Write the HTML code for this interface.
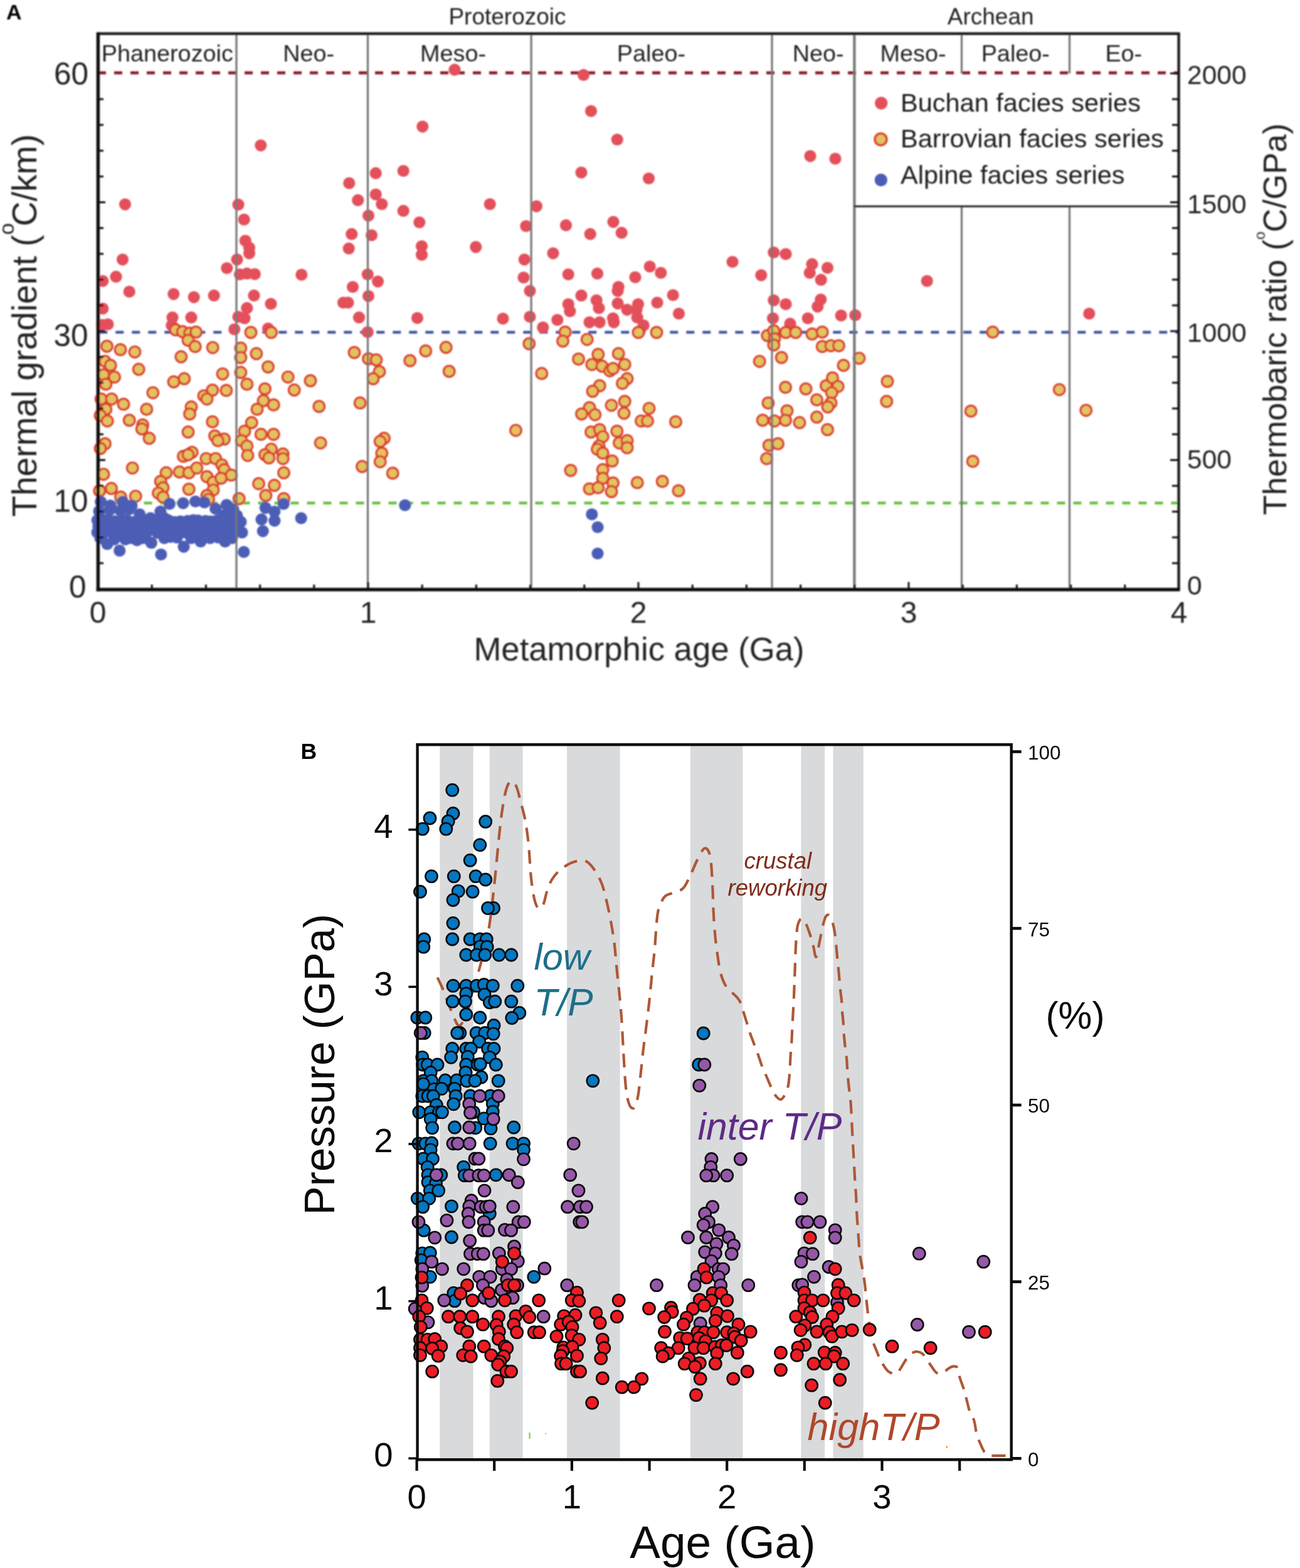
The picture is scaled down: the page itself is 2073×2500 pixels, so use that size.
<!DOCTYPE html>
<html><head><meta charset="utf-8"><title>Metamorphic thermal gradients through time</title>
<style>
html,body{margin:0;padding:0;background:#fff;}
body{width:2073px;height:2500px;overflow:hidden;}
svg{display:block;}
text{font-family:'Liberation Sans',Arial,Helvetica,sans-serif;}
</style></head><body>
<svg xmlns="http://www.w3.org/2000/svg" width="2073" height="2500" viewBox="0 0 2073 2500">
<rect x="0" y="0" width="2073" height="2500" fill="#fff"/>

<defs><filter id="blurA" filterUnits="userSpaceOnUse" x="0" y="0" width="2073" height="1110"><feGaussianBlur stdDeviation="0.85"/></filter></defs>
<g id="panelA" filter="url(#blurA)">
<text x="10" y="30.5" font-size="34" font-weight="bold" fill="#000">A</text>
<text x="809" y="39" font-size="37" fill="#222" text-anchor="middle">Proterozoic</text>
<text x="1579.7" y="39" font-size="37" fill="#222" text-anchor="middle">Archean</text>
<text x="266.8" y="98" font-size="37.8" fill="#222" text-anchor="middle">Phanerozoic</text>
<text x="492.2" y="98" font-size="37.8" fill="#222" text-anchor="middle">Neo-</text>
<text x="722.5" y="98" font-size="37.8" fill="#222" text-anchor="middle">Meso-</text>
<text x="1038.4" y="98" font-size="37.8" fill="#222" text-anchor="middle">Paleo-</text>
<text x="1304.7" y="98" font-size="37.8" fill="#222" text-anchor="middle">Neo-</text>
<text x="1456.1" y="98" font-size="37.8" fill="#222" text-anchor="middle">Meso-</text>
<text x="1619.3" y="98" font-size="37.8" fill="#222" text-anchor="middle">Paleo-</text>
<text x="1791.8" y="98" font-size="37.8" fill="#222" text-anchor="middle">Eo-</text>
<line x1="156" y1="116.2" x2="1878" y2="116.2" stroke="#861c26" stroke-width="4.8" stroke-dasharray="13 13"/>
<line x1="156" y1="529.7" x2="1878" y2="529.7" stroke="#3f56aa" stroke-width="4.4" stroke-dasharray="13 13" stroke-dashoffset="-2.3"/>
<line x1="156" y1="802" x2="1878" y2="802" stroke="#66c040" stroke-width="4.4" stroke-dasharray="13 13" stroke-dashoffset="4.5"/>
<circle cx="415.8" cy="231.8" r="9.6" fill="#e3505a"/><circle cx="199.5" cy="325.8" r="9.6" fill="#e3505a"/><circle cx="380.0" cy="326.2" r="9.6" fill="#e3505a"/><circle cx="389.2" cy="350.0" r="9.6" fill="#e3505a"/><circle cx="556.8" cy="292.0" r="9.6" fill="#e3505a"/><circle cx="570.8" cy="319.2" r="9.6" fill="#e3505a"/><circle cx="560.8" cy="373.2" r="9.6" fill="#e3505a"/><circle cx="195.5" cy="413.8" r="9.6" fill="#e3505a"/><circle cx="185.0" cy="441.2" r="9.6" fill="#e3505a"/><circle cx="163.8" cy="448.0" r="9.6" fill="#e3505a"/><circle cx="206.2" cy="465.0" r="9.6" fill="#e3505a"/><circle cx="163.8" cy="492.0" r="9.6" fill="#e3505a"/><circle cx="162.5" cy="518.0" r="9.6" fill="#e3505a"/><circle cx="172.0" cy="517.0" r="9.6" fill="#e3505a"/><circle cx="276.8" cy="468.8" r="9.6" fill="#e3505a"/><circle cx="309.2" cy="473.8" r="9.6" fill="#e3505a"/><circle cx="341.2" cy="471.2" r="9.6" fill="#e3505a"/><circle cx="275.0" cy="506.2" r="9.6" fill="#e3505a"/><circle cx="305.0" cy="506.2" r="9.6" fill="#e3505a"/><circle cx="273.8" cy="518.8" r="9.6" fill="#e3505a"/><circle cx="361.8" cy="427.5" r="9.6" fill="#e3505a"/><circle cx="378.0" cy="413.8" r="9.6" fill="#e3505a"/><circle cx="391.2" cy="383.8" r="9.6" fill="#e3505a"/><circle cx="397.5" cy="395.0" r="9.6" fill="#e3505a"/><circle cx="397.5" cy="403.8" r="9.6" fill="#e3505a"/><circle cx="382.5" cy="437.5" r="9.6" fill="#e3505a"/><circle cx="393.8" cy="436.2" r="9.6" fill="#e3505a"/><circle cx="406.2" cy="437.0" r="9.6" fill="#e3505a"/><circle cx="405.0" cy="471.2" r="9.6" fill="#e3505a"/><circle cx="393.8" cy="491.2" r="9.6" fill="#e3505a"/><circle cx="380.0" cy="505.0" r="9.6" fill="#e3505a"/><circle cx="390.0" cy="507.5" r="9.6" fill="#e3505a"/><circle cx="373.8" cy="525.0" r="9.6" fill="#e3505a"/><circle cx="432.0" cy="484.5" r="9.6" fill="#e3505a"/><circle cx="480.8" cy="438.0" r="9.6" fill="#e3505a"/><circle cx="427.5" cy="523.8" r="9.6" fill="#e3505a"/><circle cx="556.2" cy="396.2" r="9.6" fill="#e3505a"/><circle cx="562.5" cy="457.5" r="9.6" fill="#e3505a"/><circle cx="547.5" cy="482.5" r="9.6" fill="#e3505a"/><circle cx="555.0" cy="482.5" r="9.6" fill="#e3505a"/><circle cx="572.5" cy="506.2" r="9.6" fill="#e3505a"/><circle cx="725.0" cy="111.2" r="9.6" fill="#e3505a"/><circle cx="930.5" cy="119.5" r="9.6" fill="#e3505a"/><circle cx="942.5" cy="177.0" r="9.6" fill="#e3505a"/><circle cx="673.8" cy="201.8" r="9.6" fill="#e3505a"/><circle cx="984.2" cy="222.5" r="9.6" fill="#e3505a"/><circle cx="599.2" cy="276.2" r="9.6" fill="#e3505a"/><circle cx="643.2" cy="272.5" r="9.6" fill="#e3505a"/><circle cx="927.0" cy="275.0" r="9.6" fill="#e3505a"/><circle cx="599.2" cy="310.0" r="9.6" fill="#e3505a"/><circle cx="608.8" cy="325.5" r="9.6" fill="#e3505a"/><circle cx="643.2" cy="336.2" r="9.6" fill="#e3505a"/><circle cx="587.5" cy="343.8" r="9.6" fill="#e3505a"/><circle cx="668.8" cy="354.5" r="9.6" fill="#e3505a"/><circle cx="781.2" cy="325.5" r="9.6" fill="#e3505a"/><circle cx="855.5" cy="328.8" r="9.6" fill="#e3505a"/><circle cx="838.8" cy="360.5" r="9.6" fill="#e3505a"/><circle cx="902.5" cy="359.2" r="9.6" fill="#e3505a"/><circle cx="978.0" cy="353.8" r="9.6" fill="#e3505a"/><circle cx="991.2" cy="371.2" r="9.6" fill="#e3505a"/><circle cx="941.2" cy="373.2" r="9.6" fill="#e3505a"/><circle cx="592.5" cy="375.0" r="9.6" fill="#e3505a"/><circle cx="672.5" cy="406.2" r="9.6" fill="#e3505a"/><circle cx="758.8" cy="393.8" r="9.6" fill="#e3505a"/><circle cx="836.2" cy="413.8" r="9.6" fill="#e3505a"/><circle cx="882.0" cy="403.8" r="9.6" fill="#e3505a"/><circle cx="602.5" cy="448.8" r="9.6" fill="#e3505a"/><circle cx="835.0" cy="442.5" r="9.6" fill="#e3505a"/><circle cx="845.0" cy="463.8" r="9.6" fill="#e3505a"/><circle cx="906.2" cy="437.5" r="9.6" fill="#e3505a"/><circle cx="952.5" cy="436.2" r="9.6" fill="#e3505a"/><circle cx="986.2" cy="457.5" r="9.6" fill="#e3505a"/><circle cx="985.0" cy="463.8" r="9.6" fill="#e3505a"/><circle cx="927.0" cy="471.2" r="9.6" fill="#e3505a"/><circle cx="906.2" cy="485.0" r="9.6" fill="#e3505a"/><circle cx="908.8" cy="496.2" r="9.6" fill="#e3505a"/><circle cx="951.2" cy="478.8" r="9.6" fill="#e3505a"/><circle cx="955.0" cy="491.2" r="9.6" fill="#e3505a"/><circle cx="985.0" cy="483.8" r="9.6" fill="#e3505a"/><circle cx="1000.0" cy="493.8" r="9.6" fill="#e3505a"/><circle cx="665.5" cy="507.0" r="9.6" fill="#e3505a"/><circle cx="802.0" cy="508.0" r="9.6" fill="#e3505a"/><circle cx="845.0" cy="505.0" r="9.6" fill="#e3505a"/><circle cx="888.8" cy="510.0" r="9.6" fill="#e3505a"/><circle cx="940.0" cy="513.8" r="9.6" fill="#e3505a"/><circle cx="956.2" cy="513.8" r="9.6" fill="#e3505a"/><circle cx="977.5" cy="507.5" r="9.6" fill="#e3505a"/><circle cx="978.8" cy="513.8" r="9.6" fill="#e3505a"/><circle cx="865.8" cy="522.0" r="9.6" fill="#e3505a"/><circle cx="586.2" cy="529.5" r="9.6" fill="#e3505a"/><circle cx="672.5" cy="392.5" r="9.6" fill="#e3505a"/><circle cx="1034.5" cy="284.5" r="9.6" fill="#e3505a"/><circle cx="1292.0" cy="248.8" r="9.6" fill="#e3505a"/><circle cx="1332.0" cy="253.0" r="9.6" fill="#e3505a"/><circle cx="1036.2" cy="425.0" r="9.6" fill="#e3505a"/><circle cx="1053.8" cy="435.0" r="9.6" fill="#e3505a"/><circle cx="1013.0" cy="442.0" r="9.6" fill="#e3505a"/><circle cx="1073.2" cy="470.5" r="9.6" fill="#e3505a"/><circle cx="1048.0" cy="482.5" r="9.6" fill="#e3505a"/><circle cx="1082.5" cy="500.0" r="9.6" fill="#e3505a"/><circle cx="1017.5" cy="485.0" r="9.6" fill="#e3505a"/><circle cx="1015.0" cy="493.8" r="9.6" fill="#e3505a"/><circle cx="1016.2" cy="506.2" r="9.6" fill="#e3505a"/><circle cx="1026.2" cy="518.8" r="9.6" fill="#e3505a"/><circle cx="1168.0" cy="417.5" r="9.6" fill="#e3505a"/><circle cx="1213.8" cy="438.8" r="9.6" fill="#e3505a"/><circle cx="1233.8" cy="402.5" r="9.6" fill="#e3505a"/><circle cx="1253.0" cy="405.0" r="9.6" fill="#e3505a"/><circle cx="1295.0" cy="421.2" r="9.6" fill="#e3505a"/><circle cx="1291.2" cy="435.0" r="9.6" fill="#e3505a"/><circle cx="1319.5" cy="427.0" r="9.6" fill="#e3505a"/><circle cx="1309.2" cy="446.2" r="9.6" fill="#e3505a"/><circle cx="1233.8" cy="478.8" r="9.6" fill="#e3505a"/><circle cx="1253.0" cy="485.0" r="9.6" fill="#e3505a"/><circle cx="1308.8" cy="477.5" r="9.6" fill="#e3505a"/><circle cx="1303.8" cy="488.8" r="9.6" fill="#e3505a"/><circle cx="1232.5" cy="507.5" r="9.6" fill="#e3505a"/><circle cx="1260.0" cy="516.2" r="9.6" fill="#e3505a"/><circle cx="1288.2" cy="507.5" r="9.6" fill="#e3505a"/><circle cx="1341.2" cy="503.0" r="9.6" fill="#e3505a"/><circle cx="1363.8" cy="502.5" r="9.6" fill="#e3505a"/><circle cx="1478.2" cy="448.0" r="9.6" fill="#e3505a"/><circle cx="1736.8" cy="500.0" r="9.6" fill="#e3505a"/><circle cx="586.25" cy="437.5" r="9.6" fill="#e3505a"/><circle cx="587.5" cy="472" r="9.6" fill="#e3505a"/>
<circle cx="280.0" cy="525.8" r="8.8" fill="#e2c262" stroke="#dc3f2e" stroke-width="3.4"/><circle cx="291.2" cy="528.8" r="8.8" fill="#e2c262" stroke="#dc3f2e" stroke-width="3.4"/><circle cx="302.5" cy="531.2" r="8.8" fill="#e2c262" stroke="#dc3f2e" stroke-width="3.4"/><circle cx="312.5" cy="529.5" r="8.8" fill="#e2c262" stroke="#dc3f2e" stroke-width="3.4"/><circle cx="300.0" cy="542.5" r="8.8" fill="#e2c262" stroke="#dc3f2e" stroke-width="3.4"/><circle cx="311.2" cy="552.5" r="8.8" fill="#e2c262" stroke="#dc3f2e" stroke-width="3.4"/><circle cx="339.2" cy="554.2" r="8.8" fill="#e2c262" stroke="#dc3f2e" stroke-width="3.4"/><circle cx="288.8" cy="568.8" r="8.8" fill="#e2c262" stroke="#dc3f2e" stroke-width="3.4"/><circle cx="170.5" cy="552.0" r="8.8" fill="#e2c262" stroke="#dc3f2e" stroke-width="3.4"/><circle cx="192.0" cy="557.5" r="8.8" fill="#e2c262" stroke="#dc3f2e" stroke-width="3.4"/><circle cx="215.0" cy="561.2" r="8.8" fill="#e2c262" stroke="#dc3f2e" stroke-width="3.4"/><circle cx="167.5" cy="576.2" r="8.8" fill="#e2c262" stroke="#dc3f2e" stroke-width="3.4"/><circle cx="176.2" cy="582.5" r="8.8" fill="#e2c262" stroke="#dc3f2e" stroke-width="3.4"/><circle cx="221.2" cy="588.8" r="8.8" fill="#e2c262" stroke="#dc3f2e" stroke-width="3.4"/><circle cx="165.0" cy="597.5" r="8.8" fill="#e2c262" stroke="#dc3f2e" stroke-width="3.4"/><circle cx="182.5" cy="601.2" r="8.8" fill="#e2c262" stroke="#dc3f2e" stroke-width="3.4"/><circle cx="168.8" cy="612.5" r="8.8" fill="#e2c262" stroke="#dc3f2e" stroke-width="3.4"/><circle cx="243.8" cy="626.2" r="8.8" fill="#e2c262" stroke="#dc3f2e" stroke-width="3.4"/><circle cx="161.2" cy="636.2" r="8.8" fill="#e2c262" stroke="#dc3f2e" stroke-width="3.4"/><circle cx="178.0" cy="636.2" r="8.8" fill="#e2c262" stroke="#dc3f2e" stroke-width="3.4"/><circle cx="197.0" cy="644.5" r="8.8" fill="#e2c262" stroke="#dc3f2e" stroke-width="3.4"/><circle cx="168.8" cy="652.5" r="8.8" fill="#e2c262" stroke="#dc3f2e" stroke-width="3.4"/><circle cx="233.8" cy="652.5" r="8.8" fill="#e2c262" stroke="#dc3f2e" stroke-width="3.4"/><circle cx="160.0" cy="662.5" r="8.8" fill="#e2c262" stroke="#dc3f2e" stroke-width="3.4"/><circle cx="171.2" cy="671.2" r="8.8" fill="#e2c262" stroke="#dc3f2e" stroke-width="3.4"/><circle cx="206.2" cy="670.0" r="8.8" fill="#e2c262" stroke="#dc3f2e" stroke-width="3.4"/><circle cx="227.5" cy="677.5" r="8.8" fill="#e2c262" stroke="#dc3f2e" stroke-width="3.4"/><circle cx="277.0" cy="608.8" r="8.8" fill="#e2c262" stroke="#dc3f2e" stroke-width="3.4"/><circle cx="293.8" cy="603.8" r="8.8" fill="#e2c262" stroke="#dc3f2e" stroke-width="3.4"/><circle cx="355.0" cy="596.2" r="8.8" fill="#e2c262" stroke="#dc3f2e" stroke-width="3.4"/><circle cx="338.8" cy="622.0" r="8.8" fill="#e2c262" stroke="#dc3f2e" stroke-width="3.4"/><circle cx="325.0" cy="631.2" r="8.8" fill="#e2c262" stroke="#dc3f2e" stroke-width="3.4"/><circle cx="330.0" cy="636.2" r="8.8" fill="#e2c262" stroke="#dc3f2e" stroke-width="3.4"/><circle cx="360.8" cy="622.5" r="8.8" fill="#e2c262" stroke="#dc3f2e" stroke-width="3.4"/><circle cx="305.0" cy="648.8" r="8.8" fill="#e2c262" stroke="#dc3f2e" stroke-width="3.4"/><circle cx="302.5" cy="660.0" r="8.8" fill="#e2c262" stroke="#dc3f2e" stroke-width="3.4"/><circle cx="338.8" cy="672.5" r="8.8" fill="#e2c262" stroke="#dc3f2e" stroke-width="3.4"/><circle cx="400.0" cy="530.0" r="8.8" fill="#e2c262" stroke="#dc3f2e" stroke-width="3.4"/><circle cx="432.5" cy="530.0" r="8.8" fill="#e2c262" stroke="#dc3f2e" stroke-width="3.4"/><circle cx="383.8" cy="555.0" r="8.8" fill="#e2c262" stroke="#dc3f2e" stroke-width="3.4"/><circle cx="383.8" cy="570.0" r="8.8" fill="#e2c262" stroke="#dc3f2e" stroke-width="3.4"/><circle cx="408.8" cy="563.8" r="8.8" fill="#e2c262" stroke="#dc3f2e" stroke-width="3.4"/><circle cx="383.8" cy="593.8" r="8.8" fill="#e2c262" stroke="#dc3f2e" stroke-width="3.4"/><circle cx="427.5" cy="585.0" r="8.8" fill="#e2c262" stroke="#dc3f2e" stroke-width="3.4"/><circle cx="393.8" cy="612.5" r="8.8" fill="#e2c262" stroke="#dc3f2e" stroke-width="3.4"/><circle cx="459.2" cy="601.2" r="8.8" fill="#e2c262" stroke="#dc3f2e" stroke-width="3.4"/><circle cx="495.0" cy="607.0" r="8.8" fill="#e2c262" stroke="#dc3f2e" stroke-width="3.4"/><circle cx="422.5" cy="620.0" r="8.8" fill="#e2c262" stroke="#dc3f2e" stroke-width="3.4"/><circle cx="469.2" cy="621.8" r="8.8" fill="#e2c262" stroke="#dc3f2e" stroke-width="3.4"/><circle cx="420.0" cy="638.8" r="8.8" fill="#e2c262" stroke="#dc3f2e" stroke-width="3.4"/><circle cx="436.2" cy="645.5" r="8.8" fill="#e2c262" stroke="#dc3f2e" stroke-width="3.4"/><circle cx="410.0" cy="652.5" r="8.8" fill="#e2c262" stroke="#dc3f2e" stroke-width="3.4"/><circle cx="508.8" cy="648.0" r="8.8" fill="#e2c262" stroke="#dc3f2e" stroke-width="3.4"/><circle cx="565.0" cy="562.0" r="8.8" fill="#e2c262" stroke="#dc3f2e" stroke-width="3.4"/><circle cx="574.2" cy="642.5" r="8.8" fill="#e2c262" stroke="#dc3f2e" stroke-width="3.4"/><circle cx="401.2" cy="673.8" r="8.8" fill="#e2c262" stroke="#dc3f2e" stroke-width="3.4"/><circle cx="226.2" cy="683.8" r="8.8" fill="#e2c262" stroke="#dc3f2e" stroke-width="3.4"/><circle cx="238.0" cy="698.8" r="8.8" fill="#e2c262" stroke="#dc3f2e" stroke-width="3.4"/><circle cx="300.0" cy="688.8" r="8.8" fill="#e2c262" stroke="#dc3f2e" stroke-width="3.4"/><circle cx="342.5" cy="695.0" r="8.8" fill="#e2c262" stroke="#dc3f2e" stroke-width="3.4"/><circle cx="357.5" cy="700.0" r="8.8" fill="#e2c262" stroke="#dc3f2e" stroke-width="3.4"/><circle cx="347.5" cy="702.5" r="8.8" fill="#e2c262" stroke="#dc3f2e" stroke-width="3.4"/><circle cx="167.5" cy="707.5" r="8.8" fill="#e2c262" stroke="#dc3f2e" stroke-width="3.4"/><circle cx="160.0" cy="715.0" r="8.8" fill="#e2c262" stroke="#dc3f2e" stroke-width="3.4"/><circle cx="211.2" cy="746.2" r="8.8" fill="#e2c262" stroke="#dc3f2e" stroke-width="3.4"/><circle cx="165.0" cy="756.2" r="8.8" fill="#e2c262" stroke="#dc3f2e" stroke-width="3.4"/><circle cx="158.8" cy="782.5" r="8.8" fill="#e2c262" stroke="#dc3f2e" stroke-width="3.4"/><circle cx="177.5" cy="778.8" r="8.8" fill="#e2c262" stroke="#dc3f2e" stroke-width="3.4"/><circle cx="192.5" cy="792.5" r="8.8" fill="#e2c262" stroke="#dc3f2e" stroke-width="3.4"/><circle cx="216.2" cy="791.2" r="8.8" fill="#e2c262" stroke="#dc3f2e" stroke-width="3.4"/><circle cx="292.5" cy="727.5" r="8.8" fill="#e2c262" stroke="#dc3f2e" stroke-width="3.4"/><circle cx="306.2" cy="721.2" r="8.8" fill="#e2c262" stroke="#dc3f2e" stroke-width="3.4"/><circle cx="300.0" cy="725.0" r="8.8" fill="#e2c262" stroke="#dc3f2e" stroke-width="3.4"/><circle cx="265.0" cy="753.8" r="8.8" fill="#e2c262" stroke="#dc3f2e" stroke-width="3.4"/><circle cx="286.2" cy="752.5" r="8.8" fill="#e2c262" stroke="#dc3f2e" stroke-width="3.4"/><circle cx="301.2" cy="753.8" r="8.8" fill="#e2c262" stroke="#dc3f2e" stroke-width="3.4"/><circle cx="313.8" cy="746.2" r="8.8" fill="#e2c262" stroke="#dc3f2e" stroke-width="3.4"/><circle cx="328.8" cy="731.2" r="8.8" fill="#e2c262" stroke="#dc3f2e" stroke-width="3.4"/><circle cx="343.8" cy="731.2" r="8.8" fill="#e2c262" stroke="#dc3f2e" stroke-width="3.4"/><circle cx="353.8" cy="741.2" r="8.8" fill="#e2c262" stroke="#dc3f2e" stroke-width="3.4"/><circle cx="357.5" cy="748.8" r="8.8" fill="#e2c262" stroke="#dc3f2e" stroke-width="3.4"/><circle cx="368.8" cy="757.5" r="8.8" fill="#e2c262" stroke="#dc3f2e" stroke-width="3.4"/><circle cx="330.0" cy="760.0" r="8.8" fill="#e2c262" stroke="#dc3f2e" stroke-width="3.4"/><circle cx="340.0" cy="768.8" r="8.8" fill="#e2c262" stroke="#dc3f2e" stroke-width="3.4"/><circle cx="352.5" cy="762.5" r="8.8" fill="#e2c262" stroke="#dc3f2e" stroke-width="3.4"/><circle cx="256.2" cy="767.5" r="8.8" fill="#e2c262" stroke="#dc3f2e" stroke-width="3.4"/><circle cx="260.0" cy="777.5" r="8.8" fill="#e2c262" stroke="#dc3f2e" stroke-width="3.4"/><circle cx="252.5" cy="786.2" r="8.8" fill="#e2c262" stroke="#dc3f2e" stroke-width="3.4"/><circle cx="260.0" cy="792.5" r="8.8" fill="#e2c262" stroke="#dc3f2e" stroke-width="3.4"/><circle cx="301.2" cy="780.0" r="8.8" fill="#e2c262" stroke="#dc3f2e" stroke-width="3.4"/><circle cx="340.0" cy="781.2" r="8.8" fill="#e2c262" stroke="#dc3f2e" stroke-width="3.4"/><circle cx="330.0" cy="790.0" r="8.8" fill="#e2c262" stroke="#dc3f2e" stroke-width="3.4"/><circle cx="332.5" cy="796.2" r="8.8" fill="#e2c262" stroke="#dc3f2e" stroke-width="3.4"/><circle cx="381.2" cy="795.0" r="8.8" fill="#e2c262" stroke="#dc3f2e" stroke-width="3.4"/><circle cx="390.0" cy="687.5" r="8.8" fill="#e2c262" stroke="#dc3f2e" stroke-width="3.4"/><circle cx="385.0" cy="702.5" r="8.8" fill="#e2c262" stroke="#dc3f2e" stroke-width="3.4"/><circle cx="393.8" cy="711.2" r="8.8" fill="#e2c262" stroke="#dc3f2e" stroke-width="3.4"/><circle cx="395.0" cy="726.2" r="8.8" fill="#e2c262" stroke="#dc3f2e" stroke-width="3.4"/><circle cx="416.2" cy="692.5" r="8.8" fill="#e2c262" stroke="#dc3f2e" stroke-width="3.4"/><circle cx="436.2" cy="692.5" r="8.8" fill="#e2c262" stroke="#dc3f2e" stroke-width="3.4"/><circle cx="432.5" cy="716.2" r="8.8" fill="#e2c262" stroke="#dc3f2e" stroke-width="3.4"/><circle cx="422.5" cy="725.0" r="8.8" fill="#e2c262" stroke="#dc3f2e" stroke-width="3.4"/><circle cx="428.8" cy="730.0" r="8.8" fill="#e2c262" stroke="#dc3f2e" stroke-width="3.4"/><circle cx="451.2" cy="723.8" r="8.8" fill="#e2c262" stroke="#dc3f2e" stroke-width="3.4"/><circle cx="451.2" cy="731.2" r="8.8" fill="#e2c262" stroke="#dc3f2e" stroke-width="3.4"/><circle cx="452.5" cy="753.8" r="8.8" fill="#e2c262" stroke="#dc3f2e" stroke-width="3.4"/><circle cx="412.5" cy="771.2" r="8.8" fill="#e2c262" stroke="#dc3f2e" stroke-width="3.4"/><circle cx="437.5" cy="773.8" r="8.8" fill="#e2c262" stroke="#dc3f2e" stroke-width="3.4"/><circle cx="423.8" cy="790.0" r="8.8" fill="#e2c262" stroke="#dc3f2e" stroke-width="3.4"/><circle cx="452.5" cy="795.0" r="8.8" fill="#e2c262" stroke="#dc3f2e" stroke-width="3.4"/><circle cx="511.2" cy="706.2" r="8.8" fill="#e2c262" stroke="#dc3f2e" stroke-width="3.4"/><circle cx="577.5" cy="743.8" r="8.8" fill="#e2c262" stroke="#dc3f2e" stroke-width="3.4"/><circle cx="901.2" cy="529.5" r="8.8" fill="#e2c262" stroke="#dc3f2e" stroke-width="3.4"/><circle cx="897.5" cy="543.8" r="8.8" fill="#e2c262" stroke="#dc3f2e" stroke-width="3.4"/><circle cx="936.2" cy="541.2" r="8.8" fill="#e2c262" stroke="#dc3f2e" stroke-width="3.4"/><circle cx="843.8" cy="548.0" r="8.8" fill="#e2c262" stroke="#dc3f2e" stroke-width="3.4"/><circle cx="678.8" cy="559.5" r="8.8" fill="#e2c262" stroke="#dc3f2e" stroke-width="3.4"/><circle cx="711.2" cy="553.8" r="8.8" fill="#e2c262" stroke="#dc3f2e" stroke-width="3.4"/><circle cx="653.8" cy="575.0" r="8.8" fill="#e2c262" stroke="#dc3f2e" stroke-width="3.4"/><circle cx="587.5" cy="572.0" r="8.8" fill="#e2c262" stroke="#dc3f2e" stroke-width="3.4"/><circle cx="600.0" cy="573.8" r="8.8" fill="#e2c262" stroke="#dc3f2e" stroke-width="3.4"/><circle cx="605.0" cy="592.5" r="8.8" fill="#e2c262" stroke="#dc3f2e" stroke-width="3.4"/><circle cx="595.0" cy="603.8" r="8.8" fill="#e2c262" stroke="#dc3f2e" stroke-width="3.4"/><circle cx="716.2" cy="592.0" r="8.8" fill="#e2c262" stroke="#dc3f2e" stroke-width="3.4"/><circle cx="863.8" cy="595.5" r="8.8" fill="#e2c262" stroke="#dc3f2e" stroke-width="3.4"/><circle cx="922.5" cy="572.5" r="8.8" fill="#e2c262" stroke="#dc3f2e" stroke-width="3.4"/><circle cx="953.8" cy="565.0" r="8.8" fill="#e2c262" stroke="#dc3f2e" stroke-width="3.4"/><circle cx="986.2" cy="563.8" r="8.8" fill="#e2c262" stroke="#dc3f2e" stroke-width="3.4"/><circle cx="943.8" cy="581.2" r="8.8" fill="#e2c262" stroke="#dc3f2e" stroke-width="3.4"/><circle cx="960.0" cy="583.8" r="8.8" fill="#e2c262" stroke="#dc3f2e" stroke-width="3.4"/><circle cx="972.5" cy="591.2" r="8.8" fill="#e2c262" stroke="#dc3f2e" stroke-width="3.4"/><circle cx="977.5" cy="587.5" r="8.8" fill="#e2c262" stroke="#dc3f2e" stroke-width="3.4"/><circle cx="996.2" cy="581.2" r="8.8" fill="#e2c262" stroke="#dc3f2e" stroke-width="3.4"/><circle cx="1000.0" cy="603.8" r="8.8" fill="#e2c262" stroke="#dc3f2e" stroke-width="3.4"/><circle cx="992.5" cy="611.2" r="8.8" fill="#e2c262" stroke="#dc3f2e" stroke-width="3.4"/><circle cx="956.2" cy="615.0" r="8.8" fill="#e2c262" stroke="#dc3f2e" stroke-width="3.4"/><circle cx="945.0" cy="623.8" r="8.8" fill="#e2c262" stroke="#dc3f2e" stroke-width="3.4"/><circle cx="940.0" cy="650.0" r="8.8" fill="#e2c262" stroke="#dc3f2e" stroke-width="3.4"/><circle cx="927.5" cy="660.0" r="8.8" fill="#e2c262" stroke="#dc3f2e" stroke-width="3.4"/><circle cx="948.8" cy="661.2" r="8.8" fill="#e2c262" stroke="#dc3f2e" stroke-width="3.4"/><circle cx="975.0" cy="646.2" r="8.8" fill="#e2c262" stroke="#dc3f2e" stroke-width="3.4"/><circle cx="996.2" cy="640.0" r="8.8" fill="#e2c262" stroke="#dc3f2e" stroke-width="3.4"/><circle cx="995.0" cy="658.8" r="8.8" fill="#e2c262" stroke="#dc3f2e" stroke-width="3.4"/><circle cx="822.5" cy="686.2" r="8.8" fill="#e2c262" stroke="#dc3f2e" stroke-width="3.4"/><circle cx="612.5" cy="698.8" r="8.8" fill="#e2c262" stroke="#dc3f2e" stroke-width="3.4"/><circle cx="606.2" cy="703.8" r="8.8" fill="#e2c262" stroke="#dc3f2e" stroke-width="3.4"/><circle cx="608.8" cy="722.5" r="8.8" fill="#e2c262" stroke="#dc3f2e" stroke-width="3.4"/><circle cx="606.2" cy="736.2" r="8.8" fill="#e2c262" stroke="#dc3f2e" stroke-width="3.4"/><circle cx="626.2" cy="754.5" r="8.8" fill="#e2c262" stroke="#dc3f2e" stroke-width="3.4"/><circle cx="942.5" cy="688.8" r="8.8" fill="#e2c262" stroke="#dc3f2e" stroke-width="3.4"/><circle cx="956.2" cy="685.0" r="8.8" fill="#e2c262" stroke="#dc3f2e" stroke-width="3.4"/><circle cx="961.2" cy="696.2" r="8.8" fill="#e2c262" stroke="#dc3f2e" stroke-width="3.4"/><circle cx="983.8" cy="687.5" r="8.8" fill="#e2c262" stroke="#dc3f2e" stroke-width="3.4"/><circle cx="987.5" cy="706.2" r="8.8" fill="#e2c262" stroke="#dc3f2e" stroke-width="3.4"/><circle cx="1000.0" cy="702.5" r="8.8" fill="#e2c262" stroke="#dc3f2e" stroke-width="3.4"/><circle cx="1000.0" cy="713.8" r="8.8" fill="#e2c262" stroke="#dc3f2e" stroke-width="3.4"/><circle cx="955.0" cy="711.2" r="8.8" fill="#e2c262" stroke="#dc3f2e" stroke-width="3.4"/><circle cx="952.5" cy="716.2" r="8.8" fill="#e2c262" stroke="#dc3f2e" stroke-width="3.4"/><circle cx="961.2" cy="722.5" r="8.8" fill="#e2c262" stroke="#dc3f2e" stroke-width="3.4"/><circle cx="976.2" cy="735.0" r="8.8" fill="#e2c262" stroke="#dc3f2e" stroke-width="3.4"/><circle cx="910.0" cy="750.0" r="8.8" fill="#e2c262" stroke="#dc3f2e" stroke-width="3.4"/><circle cx="961.2" cy="748.8" r="8.8" fill="#e2c262" stroke="#dc3f2e" stroke-width="3.4"/><circle cx="961.2" cy="762.5" r="8.8" fill="#e2c262" stroke="#dc3f2e" stroke-width="3.4"/><circle cx="977.5" cy="770.0" r="8.8" fill="#e2c262" stroke="#dc3f2e" stroke-width="3.4"/><circle cx="940.0" cy="779.5" r="8.8" fill="#e2c262" stroke="#dc3f2e" stroke-width="3.4"/><circle cx="953.8" cy="777.5" r="8.8" fill="#e2c262" stroke="#dc3f2e" stroke-width="3.4"/><circle cx="975.0" cy="783.8" r="8.8" fill="#e2c262" stroke="#dc3f2e" stroke-width="3.4"/><circle cx="1018.0" cy="530.0" r="8.8" fill="#e2c262" stroke="#dc3f2e" stroke-width="3.4"/><circle cx="1047.0" cy="530.0" r="8.8" fill="#e2c262" stroke="#dc3f2e" stroke-width="3.4"/><circle cx="1223.8" cy="535.0" r="8.8" fill="#e2c262" stroke="#dc3f2e" stroke-width="3.4"/><circle cx="1233.8" cy="527.5" r="8.8" fill="#e2c262" stroke="#dc3f2e" stroke-width="3.4"/><circle cx="1235.0" cy="540.0" r="8.8" fill="#e2c262" stroke="#dc3f2e" stroke-width="3.4"/><circle cx="1233.8" cy="550.0" r="8.8" fill="#e2c262" stroke="#dc3f2e" stroke-width="3.4"/><circle cx="1253.0" cy="530.0" r="8.8" fill="#e2c262" stroke="#dc3f2e" stroke-width="3.4"/><circle cx="1268.8" cy="530.0" r="8.8" fill="#e2c262" stroke="#dc3f2e" stroke-width="3.4"/><circle cx="1295.0" cy="532.5" r="8.8" fill="#e2c262" stroke="#dc3f2e" stroke-width="3.4"/><circle cx="1311.2" cy="529.5" r="8.8" fill="#e2c262" stroke="#dc3f2e" stroke-width="3.4"/><circle cx="1311.2" cy="552.5" r="8.8" fill="#e2c262" stroke="#dc3f2e" stroke-width="3.4"/><circle cx="1325.0" cy="551.2" r="8.8" fill="#e2c262" stroke="#dc3f2e" stroke-width="3.4"/><circle cx="1337.5" cy="551.2" r="8.8" fill="#e2c262" stroke="#dc3f2e" stroke-width="3.4"/><circle cx="1246.2" cy="570.0" r="8.8" fill="#e2c262" stroke="#dc3f2e" stroke-width="3.4"/><circle cx="1211.2" cy="576.2" r="8.8" fill="#e2c262" stroke="#dc3f2e" stroke-width="3.4"/><circle cx="1345.0" cy="582.5" r="8.8" fill="#e2c262" stroke="#dc3f2e" stroke-width="3.4"/><circle cx="1370.0" cy="571.2" r="8.8" fill="#e2c262" stroke="#dc3f2e" stroke-width="3.4"/><circle cx="1415.0" cy="608.0" r="8.8" fill="#e2c262" stroke="#dc3f2e" stroke-width="3.4"/><circle cx="1413.8" cy="640.0" r="8.8" fill="#e2c262" stroke="#dc3f2e" stroke-width="3.4"/><circle cx="1252.5" cy="617.5" r="8.8" fill="#e2c262" stroke="#dc3f2e" stroke-width="3.4"/><circle cx="1285.0" cy="620.0" r="8.8" fill="#e2c262" stroke="#dc3f2e" stroke-width="3.4"/><circle cx="1317.5" cy="615.0" r="8.8" fill="#e2c262" stroke="#dc3f2e" stroke-width="3.4"/><circle cx="1327.5" cy="602.5" r="8.8" fill="#e2c262" stroke="#dc3f2e" stroke-width="3.4"/><circle cx="1336.2" cy="616.2" r="8.8" fill="#e2c262" stroke="#dc3f2e" stroke-width="3.4"/><circle cx="1326.2" cy="626.2" r="8.8" fill="#e2c262" stroke="#dc3f2e" stroke-width="3.4"/><circle cx="1302.5" cy="637.5" r="8.8" fill="#e2c262" stroke="#dc3f2e" stroke-width="3.4"/><circle cx="1325.0" cy="642.5" r="8.8" fill="#e2c262" stroke="#dc3f2e" stroke-width="3.4"/><circle cx="1320.0" cy="648.8" r="8.8" fill="#e2c262" stroke="#dc3f2e" stroke-width="3.4"/><circle cx="1225.0" cy="642.5" r="8.8" fill="#e2c262" stroke="#dc3f2e" stroke-width="3.4"/><circle cx="1255.0" cy="655.0" r="8.8" fill="#e2c262" stroke="#dc3f2e" stroke-width="3.4"/><circle cx="1302.5" cy="665.0" r="8.8" fill="#e2c262" stroke="#dc3f2e" stroke-width="3.4"/><circle cx="1216.2" cy="670.0" r="8.8" fill="#e2c262" stroke="#dc3f2e" stroke-width="3.4"/><circle cx="1235.0" cy="671.2" r="8.8" fill="#e2c262" stroke="#dc3f2e" stroke-width="3.4"/><circle cx="1252.5" cy="670.0" r="8.8" fill="#e2c262" stroke="#dc3f2e" stroke-width="3.4"/><circle cx="1275.0" cy="673.8" r="8.8" fill="#e2c262" stroke="#dc3f2e" stroke-width="3.4"/><circle cx="1035.0" cy="651.2" r="8.8" fill="#e2c262" stroke="#dc3f2e" stroke-width="3.4"/><circle cx="1022.5" cy="671.2" r="8.8" fill="#e2c262" stroke="#dc3f2e" stroke-width="3.4"/><circle cx="1032.5" cy="671.2" r="8.8" fill="#e2c262" stroke="#dc3f2e" stroke-width="3.4"/><circle cx="1077.5" cy="672.5" r="8.8" fill="#e2c262" stroke="#dc3f2e" stroke-width="3.4"/><circle cx="1016.2" cy="769.5" r="8.8" fill="#e2c262" stroke="#dc3f2e" stroke-width="3.4"/><circle cx="1056.2" cy="767.5" r="8.8" fill="#e2c262" stroke="#dc3f2e" stroke-width="3.4"/><circle cx="1082.0" cy="782.5" r="8.8" fill="#e2c262" stroke="#dc3f2e" stroke-width="3.4"/><circle cx="1319.5" cy="685.0" r="8.8" fill="#e2c262" stroke="#dc3f2e" stroke-width="3.4"/><circle cx="1226.2" cy="710.0" r="8.8" fill="#e2c262" stroke="#dc3f2e" stroke-width="3.4"/><circle cx="1240.5" cy="707.5" r="8.8" fill="#e2c262" stroke="#dc3f2e" stroke-width="3.4"/><circle cx="1222.5" cy="731.2" r="8.8" fill="#e2c262" stroke="#dc3f2e" stroke-width="3.4"/><circle cx="1583.0" cy="529.5" r="8.8" fill="#e2c262" stroke="#dc3f2e" stroke-width="3.4"/><circle cx="1689.2" cy="621.2" r="8.8" fill="#e2c262" stroke="#dc3f2e" stroke-width="3.4"/><circle cx="1548.2" cy="655.5" r="8.8" fill="#e2c262" stroke="#dc3f2e" stroke-width="3.4"/><circle cx="1551.2" cy="735.5" r="8.8" fill="#e2c262" stroke="#dc3f2e" stroke-width="3.4"/><circle cx="1731.8" cy="654.2" r="8.8" fill="#e2c262" stroke="#dc3f2e" stroke-width="3.4"/>
<circle cx="388.8" cy="880.0" r="9.6" fill="#4c5db5"/><circle cx="160.7" cy="800" r="9.6" fill="#4c5db5"/><circle cx="176" cy="806" r="9.6" fill="#4c5db5"/><circle cx="195.8" cy="800" r="9.6" fill="#4c5db5"/><circle cx="210" cy="806" r="9.6" fill="#4c5db5"/><circle cx="270.3" cy="803.4" r="9.6" fill="#4c5db5"/><circle cx="292" cy="802.3" r="9.6" fill="#4c5db5"/><circle cx="311.6" cy="799.5" r="9.6" fill="#4c5db5"/><circle cx="326" cy="801" r="9.6" fill="#4c5db5"/><circle cx="343.7" cy="811" r="9.6" fill="#4c5db5"/><circle cx="361.3" cy="805" r="9.6" fill="#4c5db5"/><circle cx="372" cy="812" r="9.6" fill="#4c5db5"/><circle cx="158" cy="815" r="9.6" fill="#4c5db5"/><circle cx="175" cy="813" r="9.6" fill="#4c5db5"/><circle cx="192" cy="814" r="9.6" fill="#4c5db5"/><circle cx="206" cy="812" r="9.6" fill="#4c5db5"/><circle cx="222.7" cy="820" r="9.6" fill="#4c5db5"/><circle cx="240" cy="826" r="9.6" fill="#4c5db5"/><circle cx="255.8" cy="815.6" r="9.6" fill="#4c5db5"/><circle cx="262" cy="826" r="9.6" fill="#4c5db5"/><circle cx="368" cy="818" r="9.6" fill="#4c5db5"/><circle cx="355" cy="822" r="9.6" fill="#4c5db5"/><circle cx="377.8" cy="822" r="9.6" fill="#4c5db5"/><circle cx="155.3" cy="829.6" r="9.6" fill="#4c5db5"/><circle cx="166.1" cy="829.3" r="9.6" fill="#4c5db5"/><circle cx="175.1" cy="830.5" r="9.6" fill="#4c5db5"/><circle cx="182.7" cy="831.0" r="9.6" fill="#4c5db5"/><circle cx="192.1" cy="830.7" r="9.6" fill="#4c5db5"/><circle cx="201.8" cy="829.4" r="9.6" fill="#4c5db5"/><circle cx="212.7" cy="832.3" r="9.6" fill="#4c5db5"/><circle cx="221.0" cy="829.9" r="9.6" fill="#4c5db5"/><circle cx="232.5" cy="832.8" r="9.6" fill="#4c5db5"/><circle cx="241.8" cy="830.6" r="9.6" fill="#4c5db5"/><circle cx="252.9" cy="829.2" r="9.6" fill="#4c5db5"/><circle cx="261.9" cy="830.2" r="9.6" fill="#4c5db5"/><circle cx="268.6" cy="829.5" r="9.6" fill="#4c5db5"/><circle cx="278.7" cy="832.3" r="9.6" fill="#4c5db5"/><circle cx="287.7" cy="831.3" r="9.6" fill="#4c5db5"/><circle cx="299.1" cy="830.5" r="9.6" fill="#4c5db5"/><circle cx="308.2" cy="829.3" r="9.6" fill="#4c5db5"/><circle cx="315.7" cy="829.8" r="9.6" fill="#4c5db5"/><circle cx="327.7" cy="830.7" r="9.6" fill="#4c5db5"/><circle cx="335.8" cy="831.3" r="9.6" fill="#4c5db5"/><circle cx="345.8" cy="830.2" r="9.6" fill="#4c5db5"/><circle cx="356.7" cy="831.8" r="9.6" fill="#4c5db5"/><circle cx="364.0" cy="831.3" r="9.6" fill="#4c5db5"/><circle cx="374.6" cy="832.5" r="9.6" fill="#4c5db5"/><circle cx="156.9" cy="839.2" r="9.6" fill="#4c5db5"/><circle cx="167.4" cy="838.5" r="9.6" fill="#4c5db5"/><circle cx="174.7" cy="841.0" r="9.6" fill="#4c5db5"/><circle cx="183.1" cy="840.0" r="9.6" fill="#4c5db5"/><circle cx="192.2" cy="840.7" r="9.6" fill="#4c5db5"/><circle cx="204.6" cy="840.3" r="9.6" fill="#4c5db5"/><circle cx="214.5" cy="839.3" r="9.6" fill="#4c5db5"/><circle cx="223.3" cy="840.4" r="9.6" fill="#4c5db5"/><circle cx="232.3" cy="839.8" r="9.6" fill="#4c5db5"/><circle cx="242.9" cy="841.8" r="9.6" fill="#4c5db5"/><circle cx="250.9" cy="840.7" r="9.6" fill="#4c5db5"/><circle cx="258.7" cy="840.8" r="9.6" fill="#4c5db5"/><circle cx="270.6" cy="842.0" r="9.6" fill="#4c5db5"/><circle cx="280.8" cy="839.1" r="9.6" fill="#4c5db5"/><circle cx="298.0" cy="840.7" r="9.6" fill="#4c5db5"/><circle cx="306.1" cy="839.8" r="9.6" fill="#4c5db5"/><circle cx="316.2" cy="838.5" r="9.6" fill="#4c5db5"/><circle cx="325.2" cy="841.1" r="9.6" fill="#4c5db5"/><circle cx="335.0" cy="839.0" r="9.6" fill="#4c5db5"/><circle cx="345.6" cy="841.5" r="9.6" fill="#4c5db5"/><circle cx="353.8" cy="839.8" r="9.6" fill="#4c5db5"/><circle cx="365.2" cy="841.5" r="9.6" fill="#4c5db5"/><circle cx="375.8" cy="841.5" r="9.6" fill="#4c5db5"/><circle cx="155.1" cy="848.7" r="9.6" fill="#4c5db5"/><circle cx="164.9" cy="850.5" r="9.6" fill="#4c5db5"/><circle cx="176.8" cy="847.6" r="9.6" fill="#4c5db5"/><circle cx="183.2" cy="847.9" r="9.6" fill="#4c5db5"/><circle cx="192.9" cy="848.9" r="9.6" fill="#4c5db5"/><circle cx="203.9" cy="848.1" r="9.6" fill="#4c5db5"/><circle cx="211.0" cy="848.7" r="9.6" fill="#4c5db5"/><circle cx="222.0" cy="849.3" r="9.6" fill="#4c5db5"/><circle cx="233.8" cy="849.8" r="9.6" fill="#4c5db5"/><circle cx="251.1" cy="849.5" r="9.6" fill="#4c5db5"/><circle cx="261.2" cy="847.2" r="9.6" fill="#4c5db5"/><circle cx="271.6" cy="850.1" r="9.6" fill="#4c5db5"/><circle cx="281.0" cy="850.2" r="9.6" fill="#4c5db5"/><circle cx="288.6" cy="848.6" r="9.6" fill="#4c5db5"/><circle cx="296.9" cy="849.5" r="9.6" fill="#4c5db5"/><circle cx="306.2" cy="847.3" r="9.6" fill="#4c5db5"/><circle cx="316.3" cy="847.6" r="9.6" fill="#4c5db5"/><circle cx="326.4" cy="847.2" r="9.6" fill="#4c5db5"/><circle cx="334.5" cy="847.6" r="9.6" fill="#4c5db5"/><circle cx="344.4" cy="848.5" r="9.6" fill="#4c5db5"/><circle cx="353.6" cy="850.5" r="9.6" fill="#4c5db5"/><circle cx="365.5" cy="847.6" r="9.6" fill="#4c5db5"/><circle cx="373.5" cy="848.4" r="9.6" fill="#4c5db5"/><circle cx="160" cy="858" r="9.6" fill="#4c5db5"/><circle cx="171" cy="867.5" r="9.6" fill="#4c5db5"/><circle cx="182" cy="860" r="9.6" fill="#4c5db5"/><circle cx="190.7" cy="877.9" r="9.6" fill="#4c5db5"/><circle cx="200" cy="860" r="9.6" fill="#4c5db5"/><circle cx="210" cy="858" r="9.6" fill="#4c5db5"/><circle cx="218.6" cy="861.3" r="9.6" fill="#4c5db5"/><circle cx="228" cy="858" r="9.6" fill="#4c5db5"/><circle cx="241.3" cy="865.5" r="9.6" fill="#4c5db5"/><circle cx="256.8" cy="884" r="9.6" fill="#4c5db5"/><circle cx="262" cy="858" r="9.6" fill="#4c5db5"/><circle cx="272" cy="856" r="9.6" fill="#4c5db5"/><circle cx="282" cy="857" r="9.6" fill="#4c5db5"/><circle cx="293" cy="871.7" r="9.6" fill="#4c5db5"/><circle cx="305" cy="858" r="9.6" fill="#4c5db5"/><circle cx="320" cy="863.4" r="9.6" fill="#4c5db5"/><circle cx="335" cy="858" r="9.6" fill="#4c5db5"/><circle cx="348" cy="857" r="9.6" fill="#4c5db5"/><circle cx="359" cy="863.4" r="9.6" fill="#4c5db5"/><circle cx="370" cy="858" r="9.6" fill="#4c5db5"/><circle cx="386" cy="849" r="9.6" fill="#4c5db5"/><circle cx="384" cy="832" r="9.6" fill="#4c5db5"/><circle cx="423.3" cy="809.6" r="9.6" fill="#4c5db5"/><circle cx="437.8" cy="815.8" r="9.6" fill="#4c5db5"/><circle cx="417" cy="828.2" r="9.6" fill="#4c5db5"/><circle cx="437.8" cy="830.3" r="9.6" fill="#4c5db5"/><circle cx="419.2" cy="846.8" r="9.6" fill="#4c5db5"/><circle cx="452.2" cy="803.4" r="9.6" fill="#4c5db5"/><circle cx="480.2" cy="826.2" r="9.6" fill="#4c5db5"/><circle cx="645.8" cy="805.5" r="9.6" fill="#4c5db5"/><circle cx="943.8" cy="820.0" r="9.6" fill="#4c5db5"/><circle cx="953.0" cy="840.5" r="9.6" fill="#4c5db5"/><circle cx="953.0" cy="882.5" r="9.6" fill="#4c5db5"/>
<line x1="377" y1="53" x2="377" y2="940" stroke="#767676" stroke-width="3.2"/>
<line x1="586.5" y1="53" x2="586.5" y2="940" stroke="#767676" stroke-width="3.2"/>
<line x1="847.1" y1="53" x2="847.1" y2="940" stroke="#767676" stroke-width="3.2"/>
<line x1="1231" y1="53" x2="1231" y2="940" stroke="#767676" stroke-width="3.2"/>
<line x1="1362.4" y1="53" x2="1362.4" y2="940" stroke="#767676" stroke-width="4.2"/>
<line x1="1533.5" y1="53" x2="1533.5" y2="117" stroke="#767676" stroke-width="3.2"/>
<line x1="1533.5" y1="329" x2="1533.5" y2="940" stroke="#767676" stroke-width="3.2"/>
<line x1="1705.5" y1="53" x2="1705.5" y2="117" stroke="#767676" stroke-width="3.2"/>
<line x1="1705.5" y1="329" x2="1705.5" y2="940" stroke="#767676" stroke-width="3.2"/>
<line x1="1362" y1="329" x2="1878" y2="329" stroke="#222" stroke-width="3"/>
<circle cx="1405.2" cy="164.5" r="10.2" fill="#e3505a"/>
<circle cx="1404.5" cy="222.2" r="9.4" fill="#e2c262" stroke="#dc3f2e" stroke-width="3.6"/>
<circle cx="1404.8" cy="287" r="10.2" fill="#4c5db5"/>
<text x="1436" y="177.6" font-size="41.5" fill="#1c1c1c">Buchan facies series</text>
<text x="1436" y="234.6" font-size="41.5" fill="#1c1c1c">Barrovian facies series</text>
<text x="1436" y="292.6" font-size="41.5" fill="#1c1c1c">Alpine facies series</text>
<line x1="156" y1="53.6" x2="1881.6" y2="53.6" stroke="#161616" stroke-width="4.4"/>
<line x1="1879.6" y1="53" x2="1879.6" y2="940" stroke="#161616" stroke-width="4.2"/>
<line x1="156.4" y1="51.5" x2="156.4" y2="942.7" stroke="#111" stroke-width="5.4"/>
<line x1="153.7" y1="940" x2="1881.6" y2="940" stroke="#111" stroke-width="5.4"/>
<line x1="242.2" y1="940" x2="242.2" y2="932" stroke="#111" stroke-width="3"/>
<line x1="328.4" y1="940" x2="328.4" y2="932" stroke="#111" stroke-width="3"/>
<line x1="414.6" y1="940" x2="414.6" y2="932" stroke="#111" stroke-width="3"/>
<line x1="500.8" y1="940" x2="500.8" y2="932" stroke="#111" stroke-width="3"/>
<line x1="587.0" y1="940" x2="587.0" y2="928" stroke="#111" stroke-width="3"/>
<line x1="673.2" y1="940" x2="673.2" y2="932" stroke="#111" stroke-width="3"/>
<line x1="759.4" y1="940" x2="759.4" y2="932" stroke="#111" stroke-width="3"/>
<line x1="845.6" y1="940" x2="845.6" y2="932" stroke="#111" stroke-width="3"/>
<line x1="931.8" y1="940" x2="931.8" y2="932" stroke="#111" stroke-width="3"/>
<line x1="1018.0" y1="940" x2="1018.0" y2="928" stroke="#111" stroke-width="3"/>
<line x1="1104.2" y1="940" x2="1104.2" y2="932" stroke="#111" stroke-width="3"/>
<line x1="1190.4" y1="940" x2="1190.4" y2="932" stroke="#111" stroke-width="3"/>
<line x1="1276.6" y1="940" x2="1276.6" y2="932" stroke="#111" stroke-width="3"/>
<line x1="1362.8" y1="940" x2="1362.8" y2="932" stroke="#111" stroke-width="3"/>
<line x1="1449.0" y1="940" x2="1449.0" y2="928" stroke="#111" stroke-width="3"/>
<line x1="1535.2" y1="940" x2="1535.2" y2="932" stroke="#111" stroke-width="3"/>
<line x1="1621.4" y1="940" x2="1621.4" y2="932" stroke="#111" stroke-width="3"/>
<line x1="1707.6" y1="940" x2="1707.6" y2="932" stroke="#111" stroke-width="3"/>
<line x1="1793.8" y1="940" x2="1793.8" y2="932" stroke="#111" stroke-width="3"/>
<line x1="156" y1="158.1" x2="165" y2="158.1" stroke="#111" stroke-width="3"/>
<line x1="156" y1="199.2" x2="165" y2="199.2" stroke="#111" stroke-width="3"/>
<line x1="156" y1="240.3" x2="165" y2="240.3" stroke="#111" stroke-width="3"/>
<line x1="156" y1="281.4" x2="165" y2="281.4" stroke="#111" stroke-width="3"/>
<line x1="156" y1="322.5" x2="168" y2="322.5" stroke="#111" stroke-width="3"/>
<line x1="156" y1="363.6" x2="165" y2="363.6" stroke="#111" stroke-width="3"/>
<line x1="156" y1="404.7" x2="165" y2="404.7" stroke="#111" stroke-width="3"/>
<line x1="156" y1="445.8" x2="165" y2="445.8" stroke="#111" stroke-width="3"/>
<line x1="156" y1="486.9" x2="165" y2="486.9" stroke="#111" stroke-width="3"/>
<line x1="156" y1="528.0" x2="168" y2="528.0" stroke="#111" stroke-width="3"/>
<line x1="156" y1="569.1" x2="165" y2="569.1" stroke="#111" stroke-width="3"/>
<line x1="156" y1="610.2" x2="165" y2="610.2" stroke="#111" stroke-width="3"/>
<line x1="156" y1="651.3" x2="165" y2="651.3" stroke="#111" stroke-width="3"/>
<line x1="156" y1="692.4" x2="165" y2="692.4" stroke="#111" stroke-width="3"/>
<line x1="156" y1="733.5" x2="168" y2="733.5" stroke="#111" stroke-width="3"/>
<line x1="156" y1="774.6" x2="165" y2="774.6" stroke="#111" stroke-width="3"/>
<line x1="156" y1="815.7" x2="165" y2="815.7" stroke="#111" stroke-width="3"/>
<line x1="156" y1="856.8" x2="165" y2="856.8" stroke="#111" stroke-width="3"/>
<line x1="156" y1="897.9" x2="165" y2="897.9" stroke="#111" stroke-width="3"/>
<line x1="1878" y1="117.0" x2="1866" y2="117.0" stroke="#111" stroke-width="3"/>
<line x1="1878" y1="158.1" x2="1869" y2="158.1" stroke="#111" stroke-width="3"/>
<line x1="1878" y1="199.2" x2="1869" y2="199.2" stroke="#111" stroke-width="3"/>
<line x1="1878" y1="240.3" x2="1869" y2="240.3" stroke="#111" stroke-width="3"/>
<line x1="1878" y1="281.4" x2="1869" y2="281.4" stroke="#111" stroke-width="3"/>
<line x1="1878" y1="322.5" x2="1866" y2="322.5" stroke="#111" stroke-width="3"/>
<line x1="1878" y1="363.6" x2="1869" y2="363.6" stroke="#111" stroke-width="3"/>
<line x1="1878" y1="404.7" x2="1869" y2="404.7" stroke="#111" stroke-width="3"/>
<line x1="1878" y1="445.8" x2="1869" y2="445.8" stroke="#111" stroke-width="3"/>
<line x1="1878" y1="486.9" x2="1869" y2="486.9" stroke="#111" stroke-width="3"/>
<line x1="1878" y1="528.0" x2="1866" y2="528.0" stroke="#111" stroke-width="3"/>
<line x1="1878" y1="569.1" x2="1869" y2="569.1" stroke="#111" stroke-width="3"/>
<line x1="1878" y1="610.2" x2="1869" y2="610.2" stroke="#111" stroke-width="3"/>
<line x1="1878" y1="651.3" x2="1869" y2="651.3" stroke="#111" stroke-width="3"/>
<line x1="1878" y1="692.4" x2="1869" y2="692.4" stroke="#111" stroke-width="3"/>
<line x1="1878" y1="733.5" x2="1866" y2="733.5" stroke="#111" stroke-width="3"/>
<line x1="1878" y1="774.6" x2="1869" y2="774.6" stroke="#111" stroke-width="3"/>
<line x1="1878" y1="815.7" x2="1869" y2="815.7" stroke="#111" stroke-width="3"/>
<line x1="1878" y1="856.8" x2="1869" y2="856.8" stroke="#111" stroke-width="3"/>
<line x1="1878" y1="897.9" x2="1869" y2="897.9" stroke="#111" stroke-width="3"/>
<text x="141" y="134.6" font-size="49.5" fill="#222" text-anchor="end">60</text>
<text x="140.5" y="552.4" font-size="49.5" fill="#222" text-anchor="end">30</text>
<text x="140.5" y="816.4" font-size="49.5" fill="#222" text-anchor="end">10</text>
<text x="137.5" y="952.8" font-size="49.5" fill="#222" text-anchor="end">0</text>
<text x="1893" y="133.7" font-size="42.5" fill="#222">2000</text>
<text x="1893" y="339.5" font-size="42.5" fill="#222">1500</text>
<text x="1893" y="544.5" font-size="42.5" fill="#222">1000</text>
<text x="1893" y="746.5" font-size="42.5" fill="#222">500</text>
<text x="1893" y="947.5" font-size="42.5" fill="#222">0</text>
<text x="156" y="993" font-size="48" fill="#222" text-anchor="middle">0</text>
<text x="587" y="993" font-size="48" fill="#222" text-anchor="middle">1</text>
<text x="1018" y="993" font-size="48" fill="#222" text-anchor="middle">2</text>
<text x="1449" y="993" font-size="48" fill="#222" text-anchor="middle">3</text>
<text x="1880" y="993" font-size="48" fill="#222" text-anchor="middle">4</text>
<text x="1019" y="1053" font-size="52.7" fill="#222" text-anchor="middle">Metamorphic age (Ga)</text>
<text transform="translate(58,519) rotate(-90)" font-size="55" fill="#222" text-anchor="middle">Thermal gradient (<tspan font-size="34" dy="-36">o</tspan><tspan dy="36" dx="-5">C/km)</tspan></text>
<text transform="translate(2051,509) rotate(-90)" font-size="52" fill="#222" text-anchor="middle">Thermobaric ratio (<tspan font-size="23" dy="-33.7">o</tspan><tspan dy="33.7" dx="-1">C/GPa)</tspan></text>
</g>
<g id="panelB">
<text x="479.5" y="1209.6" font-size="35.5" font-weight="bold" fill="#000">B</text>
<rect x="701.4" y="1187.3" width="53.3" height="1140.0" fill="#d9dadc"/>
<rect x="780.9" y="1187.3" width="52.8" height="1140.0" fill="#d9dadc"/>
<rect x="904" y="1187.3" width="84.6" height="1140.0" fill="#d9dadc"/>
<rect x="1100.7" y="1187.3" width="83.7" height="1140.0" fill="#d9dadc"/>
<rect x="1277.4" y="1187.3" width="37.8" height="1140.0" fill="#d9dadc"/>
<rect x="1328.5" y="1187.3" width="48.2" height="1140.0" fill="#d9dadc"/>
<path d="M697.5,1558.5 C699.2,1562.1 703.8,1571.0 707.5,1580.0 C711.2,1589.0 716.2,1603.5 720.0,1612.5 C723.8,1621.5 727.1,1631.1 730.0,1634.0 C732.9,1636.9 734.6,1634.8 737.5,1630.0 C740.4,1625.2 744.2,1615.4 747.5,1605.0 C750.8,1594.6 754.6,1577.9 757.5,1567.5 C760.4,1557.1 762.9,1550.0 765.0,1542.5 C767.1,1535.0 767.5,1533.3 770.0,1522.5 C772.5,1511.7 777.1,1495.0 780.0,1477.5 C782.9,1460.0 785.4,1435.8 787.5,1417.5 C789.6,1399.2 791.0,1382.1 792.5,1367.5 C794.0,1352.9 795.0,1341.7 796.2,1330.0 C797.5,1318.3 798.5,1307.9 800.0,1297.5 C801.5,1287.1 803.3,1275.2 805.0,1267.5 C806.7,1259.8 808.1,1254.9 810.0,1251.2 C811.9,1247.6 814.0,1244.9 816.2,1245.5 C818.5,1246.1 821.5,1249.7 823.8,1255.0 C826.0,1260.3 827.7,1268.8 830.0,1277.5 C832.3,1286.2 835.4,1296.7 837.5,1307.5 C839.6,1318.3 841.2,1331.2 842.5,1342.5 C843.8,1353.8 844.2,1364.6 845.0,1375.0 C845.8,1385.4 846.2,1395.0 847.5,1405.0 C848.8,1415.0 850.6,1427.8 852.5,1435.0 C854.4,1442.2 856.5,1447.2 858.8,1448.5 C861.0,1449.8 864.0,1447.2 866.2,1442.5 C868.5,1437.8 870.2,1426.7 872.5,1420.0 C874.8,1413.3 876.7,1407.9 880.0,1402.5 C883.3,1397.1 887.5,1391.9 892.5,1387.5 C897.5,1383.1 904.4,1378.8 910.0,1376.2 C915.6,1373.7 921.7,1372.2 926.2,1372.0 C930.8,1371.8 933.5,1372.0 937.5,1375.0 C941.5,1378.0 946.2,1384.2 950.0,1390.0 C953.8,1395.8 957.3,1402.9 960.0,1410.0 C962.7,1417.1 964.3,1424.8 966.2,1432.5 C968.2,1440.2 969.9,1448.1 971.5,1456.0 C973.1,1463.9 974.6,1471.4 976.0,1480.0 C977.4,1488.6 978.7,1495.8 980.0,1507.5 C981.3,1519.2 982.8,1537.5 984.0,1550.0 C985.2,1562.5 986.3,1570.0 987.5,1582.5 C988.7,1595.0 990.2,1609.6 991.2,1625.0 C992.3,1640.4 993.0,1658.7 994.0,1675.0 C995.0,1691.3 996.0,1710.8 997.0,1723.0 C998.0,1735.2 998.9,1741.7 1000.0,1748.0 C1001.1,1754.3 1002.2,1757.8 1003.5,1761.0 C1004.8,1764.2 1006.5,1766.5 1008.0,1767.0 C1009.5,1767.5 1010.9,1767.4 1012.5,1764.0 C1014.1,1760.6 1016.0,1755.4 1017.5,1746.7 C1019.0,1738.0 1020.3,1723.9 1021.7,1711.7 C1023.1,1699.5 1024.5,1684.4 1025.8,1673.3 C1027.1,1662.2 1028.0,1657.2 1029.5,1645.0 C1031.0,1632.8 1033.2,1615.8 1035.0,1600.0 C1036.8,1584.2 1038.5,1564.2 1040.0,1550.0 C1041.5,1535.8 1042.3,1530.3 1043.8,1515.0 C1045.2,1499.7 1046.6,1470.9 1048.5,1458.0 C1050.4,1445.1 1052.7,1442.6 1055.0,1437.5 C1057.3,1432.4 1058.8,1430.0 1062.5,1427.5 C1066.2,1425.0 1072.9,1424.5 1077.5,1422.5 C1082.1,1420.5 1086.2,1419.7 1090.0,1415.5 C1093.8,1411.3 1096.7,1404.2 1100.0,1397.5 C1103.3,1390.8 1107.1,1381.2 1110.0,1375.0 C1112.9,1368.8 1115.2,1363.8 1117.5,1360.0 C1119.8,1356.2 1121.7,1352.9 1123.8,1352.5 C1125.8,1352.1 1128.3,1353.8 1130.0,1357.5 C1131.7,1361.2 1132.7,1365.8 1133.8,1375.0 C1134.8,1384.2 1135.6,1400.0 1136.2,1412.5 C1136.9,1425.0 1136.9,1437.5 1137.5,1450.0 C1138.1,1462.5 1139.0,1475.8 1140.0,1487.5 C1141.0,1499.2 1142.3,1509.6 1143.8,1520.0 C1145.2,1530.4 1146.7,1541.7 1148.8,1550.0 C1150.8,1558.3 1153.2,1564.7 1156.2,1570.0 C1159.3,1575.3 1163.7,1578.5 1167.0,1582.0 C1170.3,1585.5 1173.7,1588.2 1176.0,1591.0 C1178.3,1593.8 1179.5,1595.5 1181.0,1599.0 C1182.5,1602.5 1183.2,1606.0 1185.0,1611.7 C1186.8,1617.4 1189.9,1627.5 1191.7,1633.3 C1193.5,1639.1 1193.9,1641.1 1195.8,1646.7 C1197.7,1652.3 1201.2,1661.2 1203.3,1666.7 C1205.4,1672.2 1206.2,1674.2 1208.3,1680.0 C1210.4,1685.8 1213.6,1695.9 1215.8,1701.7 C1218.0,1707.5 1219.3,1709.6 1221.7,1715.0 C1224.1,1720.4 1227.5,1728.9 1230.0,1734.2 C1232.5,1739.5 1234.2,1743.6 1236.7,1746.7 C1239.2,1749.8 1242.5,1753.3 1245.0,1753.0 C1247.5,1752.7 1249.8,1748.5 1251.7,1745.0 C1253.7,1741.5 1255.5,1737.5 1256.7,1731.7 C1258.0,1725.9 1258.6,1717.8 1259.2,1710.0 C1259.8,1702.2 1260.0,1693.6 1260.5,1685.0 C1261.0,1676.4 1262.0,1667.5 1262.5,1658.3 C1263.0,1649.1 1263.3,1639.7 1263.8,1630.0 C1264.3,1620.3 1265.0,1609.2 1265.5,1600.0 C1266.0,1590.8 1266.2,1583.3 1266.5,1575.0 C1266.8,1566.7 1267.1,1560.4 1267.5,1550.0 C1267.9,1539.6 1268.1,1524.2 1268.8,1512.5 C1269.4,1500.8 1270.2,1487.5 1271.2,1480.0 C1272.3,1472.5 1273.5,1470.0 1275.0,1467.5 C1276.5,1465.0 1278.3,1464.2 1280.0,1465.0 C1281.7,1465.8 1283.3,1469.2 1285.0,1472.5 C1286.7,1475.8 1288.1,1479.6 1290.0,1485.0 C1291.9,1490.4 1294.4,1498.2 1296.2,1505.0 C1298.1,1511.8 1299.6,1526.0 1301.2,1526.0 C1302.9,1526.0 1304.6,1512.7 1306.2,1505.0 C1307.9,1497.3 1309.6,1487.1 1311.2,1480.0 C1312.9,1472.9 1314.6,1466.0 1316.2,1462.5 C1317.9,1459.0 1319.6,1458.1 1321.2,1458.8 C1322.9,1459.4 1324.6,1461.5 1326.2,1466.2 C1327.9,1471.0 1329.8,1477.7 1331.2,1487.5 C1332.7,1497.3 1334.0,1514.6 1335.0,1525.0 C1336.0,1535.4 1336.7,1541.1 1337.5,1550.0 C1338.3,1558.9 1339.2,1570.8 1340.0,1578.3 C1340.8,1585.8 1341.5,1589.2 1342.0,1595.0 C1342.5,1600.8 1342.5,1607.2 1343.0,1613.0 C1343.5,1618.8 1344.2,1623.8 1344.7,1630.0 C1345.2,1636.2 1345.3,1643.8 1345.8,1650.0 C1346.3,1656.2 1346.8,1660.8 1347.5,1667.0 C1348.2,1673.2 1349.4,1681.2 1350.0,1687.0 C1350.6,1692.8 1350.6,1696.2 1351.0,1702.0 C1351.4,1707.8 1352.0,1716.0 1352.5,1722.0 C1353.0,1728.0 1353.5,1731.7 1354.2,1738.0 C1354.9,1744.3 1355.9,1749.7 1356.7,1760.0 C1357.5,1770.3 1358.1,1786.7 1358.8,1800.0 C1359.5,1813.3 1360.2,1826.4 1361.0,1840.0 C1361.8,1853.6 1362.6,1870.9 1363.3,1881.7 C1364.0,1892.5 1364.5,1897.0 1365.0,1905.0 C1365.5,1913.0 1365.5,1920.3 1366.0,1930.0 C1366.5,1939.7 1367.5,1952.2 1368.3,1963.3 C1369.1,1974.4 1369.7,1987.0 1370.8,1996.7 C1371.9,2006.4 1373.6,2013.4 1375.0,2021.7 C1376.4,2030.0 1377.9,2038.4 1379.0,2046.7 C1380.1,2055.0 1380.8,2064.5 1381.5,2071.7 C1382.2,2078.9 1382.8,2083.6 1383.5,2090.0 C1384.2,2096.4 1385.0,2103.3 1386.0,2110.0 C1387.0,2116.7 1388.3,2124.7 1389.5,2130.0 C1390.7,2135.3 1391.5,2137.8 1393.0,2142.0 C1394.5,2146.2 1396.6,2150.8 1398.3,2155.0 C1400.0,2159.2 1401.5,2163.8 1403.3,2167.5 C1405.1,2171.2 1406.8,2173.8 1409.0,2177.0 C1411.2,2180.2 1413.3,2184.2 1416.5,2186.5 C1419.7,2188.8 1425.0,2191.2 1428.3,2190.5 C1431.5,2189.8 1433.8,2185.0 1436.0,2182.0 C1438.2,2179.0 1439.4,2176.1 1441.7,2172.5 C1444.0,2168.9 1447.6,2163.2 1450.0,2160.5 C1452.4,2157.8 1453.9,2157.4 1456.0,2156.5 C1458.1,2155.6 1460.0,2154.7 1462.5,2155.0 C1465.0,2155.3 1468.3,2156.1 1471.0,2158.3 C1473.7,2160.6 1476.2,2165.2 1478.5,2168.5 C1480.8,2171.8 1482.7,2174.8 1485.0,2178.0 C1487.3,2181.2 1490.2,2186.0 1492.5,2188.0 C1494.8,2190.0 1496.9,2189.9 1499.0,2190.0 C1501.1,2190.1 1503.0,2189.5 1505.0,2188.3 C1507.0,2187.1 1509.0,2184.5 1511.0,2183.0 C1513.0,2181.5 1514.9,2180.2 1516.7,2179.5 C1518.5,2178.8 1520.3,2178.2 1522.0,2178.5 C1523.7,2178.8 1525.4,2178.2 1526.7,2181.0 C1528.0,2183.8 1528.2,2189.1 1530.0,2195.0 C1531.8,2200.9 1535.5,2210.2 1537.5,2216.7 C1539.5,2223.2 1540.5,2228.2 1542.0,2234.0 C1543.5,2239.8 1544.8,2246.5 1546.7,2251.7 C1548.6,2256.9 1551.5,2259.2 1553.3,2265.0 C1555.1,2270.8 1555.8,2280.6 1557.5,2286.7 C1559.2,2292.8 1561.5,2297.5 1563.3,2301.7 C1565.0,2305.9 1566.5,2309.3 1568.0,2312.0 C1569.5,2314.7 1570.0,2316.5 1572.0,2318.0 C1574.0,2319.5 1575.9,2320.3 1580.0,2320.8 C1584.1,2321.3 1591.4,2320.8 1596.7,2320.8 C1602.0,2320.8 1609.2,2320.8 1611.7,2320.8" fill="none" stroke="#ad5836" stroke-width="4.2" stroke-dasharray="22 13.5"/>
<circle cx="721.3" cy="1259.7" r="9.6" fill="#0477c2" stroke="#0a0a0a" stroke-width="2.6"/><circle cx="685.5" cy="1304.5" r="9.6" fill="#0477c2" stroke="#0a0a0a" stroke-width="2.6"/><circle cx="722.5" cy="1297.0" r="9.6" fill="#0477c2" stroke="#0a0a0a" stroke-width="2.6"/><circle cx="714.7" cy="1309.5" r="9.6" fill="#0477c2" stroke="#0a0a0a" stroke-width="2.6"/><circle cx="711.3" cy="1321.7" r="9.6" fill="#0477c2" stroke="#0a0a0a" stroke-width="2.6"/><circle cx="673.8" cy="1321.7" r="9.6" fill="#0477c2" stroke="#0a0a0a" stroke-width="2.6"/><circle cx="774.2" cy="1310.0" r="9.6" fill="#0477c2" stroke="#0a0a0a" stroke-width="2.6"/><circle cx="765.3" cy="1347.2" r="9.6" fill="#0477c2" stroke="#0a0a0a" stroke-width="2.6"/><circle cx="749.7" cy="1371.7" r="9.6" fill="#0477c2" stroke="#0a0a0a" stroke-width="2.6"/><circle cx="688.0" cy="1397.2" r="9.6" fill="#0477c2" stroke="#0a0a0a" stroke-width="2.6"/><circle cx="723.8" cy="1397.2" r="9.6" fill="#0477c2" stroke="#0a0a0a" stroke-width="2.6"/><circle cx="758.7" cy="1397.2" r="9.6" fill="#0477c2" stroke="#0a0a0a" stroke-width="2.6"/><circle cx="774.2" cy="1402.5" r="9.6" fill="#0477c2" stroke="#0a0a0a" stroke-width="2.6"/><circle cx="670.0" cy="1421.7" r="9.6" fill="#0477c2" stroke="#0a0a0a" stroke-width="2.6"/><circle cx="730.8" cy="1420.8" r="9.6" fill="#0477c2" stroke="#0a0a0a" stroke-width="2.6"/><circle cx="753.7" cy="1421.7" r="9.6" fill="#0477c2" stroke="#0a0a0a" stroke-width="2.6"/><circle cx="722.5" cy="1435.0" r="9.6" fill="#0477c2" stroke="#0a0a0a" stroke-width="2.6"/><circle cx="787.0" cy="1448.0" r="9.6" fill="#0477c2" stroke="#0a0a0a" stroke-width="2.6"/><circle cx="778.0" cy="1448.0" r="9.6" fill="#0477c2" stroke="#0a0a0a" stroke-width="2.6"/><circle cx="722.5" cy="1472.0" r="9.6" fill="#0477c2" stroke="#0a0a0a" stroke-width="2.6"/><circle cx="676.3" cy="1497.5" r="9.6" fill="#0477c2" stroke="#0a0a0a" stroke-width="2.6"/><circle cx="675.3" cy="1509.7" r="9.6" fill="#0477c2" stroke="#0a0a0a" stroke-width="2.6"/><circle cx="721.3" cy="1497.5" r="9.6" fill="#0477c2" stroke="#0a0a0a" stroke-width="2.6"/><circle cx="749.7" cy="1497.5" r="9.6" fill="#0477c2" stroke="#0a0a0a" stroke-width="2.6"/><circle cx="765.0" cy="1497.5" r="9.6" fill="#0477c2" stroke="#0a0a0a" stroke-width="2.6"/><circle cx="775.8" cy="1497.5" r="9.6" fill="#0477c2" stroke="#0a0a0a" stroke-width="2.6"/><circle cx="765.8" cy="1509.2" r="9.6" fill="#0477c2" stroke="#0a0a0a" stroke-width="2.6"/><circle cx="776.7" cy="1509.7" r="9.6" fill="#0477c2" stroke="#0a0a0a" stroke-width="2.6"/><circle cx="743.3" cy="1522.5" r="9.6" fill="#0477c2" stroke="#0a0a0a" stroke-width="2.6"/><circle cx="760.0" cy="1522.5" r="9.6" fill="#0477c2" stroke="#0a0a0a" stroke-width="2.6"/><circle cx="773.3" cy="1522.5" r="9.6" fill="#0477c2" stroke="#0a0a0a" stroke-width="2.6"/><circle cx="795.8" cy="1522.5" r="9.6" fill="#0477c2" stroke="#0a0a0a" stroke-width="2.6"/><circle cx="815.3" cy="1522.5" r="9.6" fill="#0477c2" stroke="#0a0a0a" stroke-width="2.6"/><circle cx="722.5" cy="1571.7" r="9.6" fill="#0477c2" stroke="#0a0a0a" stroke-width="2.6"/><circle cx="743.3" cy="1571.7" r="9.6" fill="#0477c2" stroke="#0a0a0a" stroke-width="2.6"/><circle cx="760.0" cy="1571.7" r="9.6" fill="#0477c2" stroke="#0a0a0a" stroke-width="2.6"/><circle cx="771.7" cy="1570.0" r="9.6" fill="#0477c2" stroke="#0a0a0a" stroke-width="2.6"/><circle cx="785.8" cy="1571.7" r="9.6" fill="#0477c2" stroke="#0a0a0a" stroke-width="2.6"/><circle cx="825.3" cy="1571.7" r="9.6" fill="#0477c2" stroke="#0a0a0a" stroke-width="2.6"/><circle cx="743.3" cy="1584.2" r="9.6" fill="#0477c2" stroke="#0a0a0a" stroke-width="2.6"/><circle cx="772.5" cy="1585.8" r="9.6" fill="#0477c2" stroke="#0a0a0a" stroke-width="2.6"/><circle cx="721.7" cy="1596.7" r="9.6" fill="#0477c2" stroke="#0a0a0a" stroke-width="2.6"/><circle cx="742.0" cy="1596.7" r="9.6" fill="#0477c2" stroke="#0a0a0a" stroke-width="2.6"/><circle cx="780.8" cy="1598.3" r="9.6" fill="#0477c2" stroke="#0a0a0a" stroke-width="2.6"/><circle cx="789.2" cy="1596.7" r="9.6" fill="#0477c2" stroke="#0a0a0a" stroke-width="2.6"/><circle cx="815.3" cy="1596.7" r="9.6" fill="#0477c2" stroke="#0a0a0a" stroke-width="2.6"/><circle cx="665.3" cy="1622.5" r="9.6" fill="#0477c2" stroke="#0a0a0a" stroke-width="2.6"/><circle cx="678.3" cy="1622.5" r="9.6" fill="#0477c2" stroke="#0a0a0a" stroke-width="2.6"/><circle cx="743.3" cy="1617.5" r="9.6" fill="#0477c2" stroke="#0a0a0a" stroke-width="2.6"/><circle cx="765.3" cy="1622.5" r="9.6" fill="#0477c2" stroke="#0a0a0a" stroke-width="2.6"/><circle cx="828.3" cy="1615.0" r="9.6" fill="#0477c2" stroke="#0a0a0a" stroke-width="2.6"/><circle cx="816.3" cy="1623.0" r="9.6" fill="#0477c2" stroke="#0a0a0a" stroke-width="2.6"/><circle cx="787.5" cy="1635.0" r="9.6" fill="#0477c2" stroke="#0a0a0a" stroke-width="2.6"/><circle cx="676.7" cy="1647.0" r="9.6" fill="#0477c2" stroke="#0a0a0a" stroke-width="2.6"/><circle cx="733.3" cy="1647.0" r="9.6" fill="#0477c2" stroke="#0a0a0a" stroke-width="2.6"/><circle cx="729.2" cy="1647.0" r="9.6" fill="#0477c2" stroke="#0a0a0a" stroke-width="2.6"/><circle cx="759.7" cy="1647.0" r="9.6" fill="#0477c2" stroke="#0a0a0a" stroke-width="2.6"/><circle cx="773.3" cy="1647.0" r="9.6" fill="#0477c2" stroke="#0a0a0a" stroke-width="2.6"/><circle cx="786.7" cy="1648.3" r="9.6" fill="#0477c2" stroke="#0a0a0a" stroke-width="2.6"/><circle cx="764.2" cy="1660.8" r="9.6" fill="#0477c2" stroke="#0a0a0a" stroke-width="2.6"/><circle cx="721.3" cy="1672.0" r="9.6" fill="#0477c2" stroke="#0a0a0a" stroke-width="2.6"/><circle cx="743.3" cy="1672.0" r="9.6" fill="#0477c2" stroke="#0a0a0a" stroke-width="2.6"/><circle cx="750.8" cy="1672.0" r="9.6" fill="#0477c2" stroke="#0a0a0a" stroke-width="2.6"/><circle cx="778.0" cy="1672.0" r="9.6" fill="#0477c2" stroke="#0a0a0a" stroke-width="2.6"/><circle cx="787.5" cy="1672.0" r="9.6" fill="#0477c2" stroke="#0a0a0a" stroke-width="2.6"/><circle cx="719.2" cy="1685.8" r="9.6" fill="#0477c2" stroke="#0a0a0a" stroke-width="2.6"/><circle cx="745.8" cy="1685.0" r="9.6" fill="#0477c2" stroke="#0a0a0a" stroke-width="2.6"/><circle cx="780.8" cy="1685.8" r="9.6" fill="#0477c2" stroke="#0a0a0a" stroke-width="2.6"/><circle cx="673.3" cy="1685.8" r="9.6" fill="#0477c2" stroke="#0a0a0a" stroke-width="2.6"/><circle cx="674.2" cy="1697.5" r="9.6" fill="#0477c2" stroke="#0a0a0a" stroke-width="2.6"/><circle cx="681.7" cy="1697.5" r="9.6" fill="#0477c2" stroke="#0a0a0a" stroke-width="2.6"/><circle cx="697.5" cy="1697.5" r="9.6" fill="#0477c2" stroke="#0a0a0a" stroke-width="2.6"/><circle cx="743.3" cy="1697.5" r="9.6" fill="#0477c2" stroke="#0a0a0a" stroke-width="2.6"/><circle cx="761.7" cy="1697.5" r="9.6" fill="#0477c2" stroke="#0a0a0a" stroke-width="2.6"/><circle cx="765.8" cy="1696.7" r="9.6" fill="#0477c2" stroke="#0a0a0a" stroke-width="2.6"/><circle cx="790.8" cy="1697.5" r="9.6" fill="#0477c2" stroke="#0a0a0a" stroke-width="2.6"/><circle cx="686.7" cy="1710.0" r="9.6" fill="#0477c2" stroke="#0a0a0a" stroke-width="2.6"/><circle cx="742.5" cy="1710.0" r="9.6" fill="#0477c2" stroke="#0a0a0a" stroke-width="2.6"/><circle cx="767.5" cy="1717.5" r="9.6" fill="#0477c2" stroke="#0a0a0a" stroke-width="2.6"/><circle cx="675.0" cy="1723.3" r="9.6" fill="#0477c2" stroke="#0a0a0a" stroke-width="2.6"/><circle cx="688.3" cy="1723.3" r="9.6" fill="#0477c2" stroke="#0a0a0a" stroke-width="2.6"/><circle cx="710.0" cy="1722.5" r="9.6" fill="#0477c2" stroke="#0a0a0a" stroke-width="2.6"/><circle cx="728.3" cy="1722.5" r="9.6" fill="#0477c2" stroke="#0a0a0a" stroke-width="2.6"/><circle cx="744.2" cy="1723.3" r="9.6" fill="#0477c2" stroke="#0a0a0a" stroke-width="2.6"/><circle cx="757.5" cy="1723.3" r="9.6" fill="#0477c2" stroke="#0a0a0a" stroke-width="2.6"/><circle cx="794.7" cy="1723.3" r="9.6" fill="#0477c2" stroke="#0a0a0a" stroke-width="2.6"/><circle cx="675.0" cy="1728.3" r="9.6" fill="#0477c2" stroke="#0a0a0a" stroke-width="2.6"/><circle cx="691.7" cy="1736.7" r="9.6" fill="#0477c2" stroke="#0a0a0a" stroke-width="2.6"/><circle cx="704.2" cy="1735.8" r="9.6" fill="#0477c2" stroke="#0a0a0a" stroke-width="2.6"/><circle cx="725.0" cy="1735.8" r="9.6" fill="#0477c2" stroke="#0a0a0a" stroke-width="2.6"/><circle cx="673.3" cy="1747.5" r="9.6" fill="#0477c2" stroke="#0a0a0a" stroke-width="2.6"/><circle cx="682.5" cy="1747.5" r="9.6" fill="#0477c2" stroke="#0a0a0a" stroke-width="2.6"/><circle cx="690.8" cy="1747.5" r="9.6" fill="#0477c2" stroke="#0a0a0a" stroke-width="2.6"/><circle cx="726.7" cy="1747.5" r="9.6" fill="#0477c2" stroke="#0a0a0a" stroke-width="2.6"/><circle cx="750.0" cy="1747.5" r="9.6" fill="#0477c2" stroke="#0a0a0a" stroke-width="2.6"/><circle cx="781.7" cy="1747.5" r="9.6" fill="#0477c2" stroke="#0a0a0a" stroke-width="2.6"/><circle cx="723.3" cy="1760.3" r="9.6" fill="#0477c2" stroke="#0a0a0a" stroke-width="2.6"/><circle cx="695.8" cy="1761.7" r="9.6" fill="#0477c2" stroke="#0a0a0a" stroke-width="2.6"/><circle cx="785.8" cy="1760.0" r="9.6" fill="#0477c2" stroke="#0a0a0a" stroke-width="2.6"/><circle cx="668.3" cy="1773.3" r="9.6" fill="#0477c2" stroke="#0a0a0a" stroke-width="2.6"/><circle cx="686.7" cy="1773.3" r="9.6" fill="#0477c2" stroke="#0a0a0a" stroke-width="2.6"/><circle cx="700.0" cy="1773.3" r="9.6" fill="#0477c2" stroke="#0a0a0a" stroke-width="2.6"/><circle cx="705.0" cy="1773.3" r="9.6" fill="#0477c2" stroke="#0a0a0a" stroke-width="2.6"/><circle cx="755.0" cy="1773.3" r="9.6" fill="#0477c2" stroke="#0a0a0a" stroke-width="2.6"/><circle cx="785.8" cy="1772.5" r="9.6" fill="#0477c2" stroke="#0a0a0a" stroke-width="2.6"/><circle cx="686.7" cy="1784.2" r="9.6" fill="#0477c2" stroke="#0a0a0a" stroke-width="2.6"/><circle cx="771.7" cy="1783.3" r="9.6" fill="#0477c2" stroke="#0a0a0a" stroke-width="2.6"/><circle cx="689.2" cy="1798.3" r="9.6" fill="#0477c2" stroke="#0a0a0a" stroke-width="2.6"/><circle cx="725.0" cy="1797.5" r="9.6" fill="#0477c2" stroke="#0a0a0a" stroke-width="2.6"/><circle cx="758.3" cy="1798.3" r="9.6" fill="#0477c2" stroke="#0a0a0a" stroke-width="2.6"/><circle cx="782.5" cy="1799.2" r="9.6" fill="#0477c2" stroke="#0a0a0a" stroke-width="2.6"/><circle cx="819.2" cy="1797.5" r="9.6" fill="#0477c2" stroke="#0a0a0a" stroke-width="2.6"/><circle cx="667.5" cy="1823.3" r="9.6" fill="#0477c2" stroke="#0a0a0a" stroke-width="2.6"/><circle cx="678.3" cy="1823.3" r="9.6" fill="#0477c2" stroke="#0a0a0a" stroke-width="2.6"/><circle cx="688.3" cy="1822.5" r="9.6" fill="#0477c2" stroke="#0a0a0a" stroke-width="2.6"/><circle cx="781.7" cy="1823.3" r="9.6" fill="#0477c2" stroke="#0a0a0a" stroke-width="2.6"/><circle cx="817.5" cy="1823.3" r="9.6" fill="#0477c2" stroke="#0a0a0a" stroke-width="2.6"/><circle cx="835.0" cy="1823.3" r="9.6" fill="#0477c2" stroke="#0a0a0a" stroke-width="2.6"/><circle cx="835.0" cy="1833.3" r="9.6" fill="#0477c2" stroke="#0a0a0a" stroke-width="2.6"/><circle cx="686.7" cy="1833.3" r="9.6" fill="#0477c2" stroke="#0a0a0a" stroke-width="2.6"/><circle cx="675.0" cy="1847.5" r="9.6" fill="#0477c2" stroke="#0a0a0a" stroke-width="2.6"/><circle cx="690.0" cy="1847.5" r="9.6" fill="#0477c2" stroke="#0a0a0a" stroke-width="2.6"/><circle cx="681.7" cy="1860.8" r="9.6" fill="#0477c2" stroke="#0a0a0a" stroke-width="2.6"/><circle cx="739.2" cy="1860.8" r="9.6" fill="#0477c2" stroke="#0a0a0a" stroke-width="2.6"/><circle cx="682.5" cy="1873.3" r="9.6" fill="#0477c2" stroke="#0a0a0a" stroke-width="2.6"/><circle cx="703.3" cy="1873.3" r="9.6" fill="#0477c2" stroke="#0a0a0a" stroke-width="2.6"/><circle cx="740.8" cy="1874.2" r="9.6" fill="#0477c2" stroke="#0a0a0a" stroke-width="2.6"/><circle cx="790.8" cy="1873.3" r="9.6" fill="#0477c2" stroke="#0a0a0a" stroke-width="2.6"/><circle cx="682.5" cy="1885.0" r="9.6" fill="#0477c2" stroke="#0a0a0a" stroke-width="2.6"/><circle cx="695.0" cy="1886.7" r="9.6" fill="#0477c2" stroke="#0a0a0a" stroke-width="2.6"/><circle cx="685.8" cy="1898.3" r="9.6" fill="#0477c2" stroke="#0a0a0a" stroke-width="2.6"/><circle cx="699.2" cy="1898.3" r="9.6" fill="#0477c2" stroke="#0a0a0a" stroke-width="2.6"/><circle cx="665.8" cy="1910.8" r="9.6" fill="#0477c2" stroke="#0a0a0a" stroke-width="2.6"/><circle cx="684.2" cy="1910.8" r="9.6" fill="#0477c2" stroke="#0a0a0a" stroke-width="2.6"/><circle cx="674.2" cy="1924.2" r="9.6" fill="#0477c2" stroke="#0a0a0a" stroke-width="2.6"/><circle cx="720.0" cy="1923.3" r="9.6" fill="#0477c2" stroke="#0a0a0a" stroke-width="2.6"/><circle cx="780.8" cy="1935.0" r="9.6" fill="#0477c2" stroke="#0a0a0a" stroke-width="2.6"/><circle cx="675.8" cy="1961.7" r="9.6" fill="#0477c2" stroke="#0a0a0a" stroke-width="2.6"/><circle cx="720.0" cy="1972.5" r="9.6" fill="#0477c2" stroke="#0a0a0a" stroke-width="2.6"/><circle cx="673.3" cy="1998.3" r="9.6" fill="#0477c2" stroke="#0a0a0a" stroke-width="2.6"/><circle cx="685.8" cy="1997.5" r="9.6" fill="#0477c2" stroke="#0a0a0a" stroke-width="2.6"/><circle cx="671.7" cy="2009.2" r="9.6" fill="#0477c2" stroke="#0a0a0a" stroke-width="2.6"/><circle cx="685.8" cy="2035.8" r="9.6" fill="#0477c2" stroke="#0a0a0a" stroke-width="2.6"/><circle cx="851.3" cy="2035.8" r="9.6" fill="#0477c2" stroke="#0a0a0a" stroke-width="2.6"/><circle cx="723.3" cy="2061.7" r="9.6" fill="#0477c2" stroke="#0a0a0a" stroke-width="2.6"/><circle cx="725.0" cy="2074.2" r="9.6" fill="#0477c2" stroke="#0a0a0a" stroke-width="2.6"/><circle cx="1121.7" cy="1647.5" r="9.6" fill="#0477c2" stroke="#0a0a0a" stroke-width="2.6"/><circle cx="1114.2" cy="1697.5" r="9.6" fill="#0477c2" stroke="#0a0a0a" stroke-width="2.6"/><circle cx="945.3" cy="1723.3" r="9.6" fill="#0477c2" stroke="#0a0a0a" stroke-width="2.6"/>
<circle cx="670.8" cy="1647.0" r="9.6" fill="#9558a8" stroke="#0a0a0a" stroke-width="2.6"/><circle cx="765.0" cy="1747.5" r="9.6" fill="#9558a8" stroke="#0a0a0a" stroke-width="2.6"/><circle cx="794.7" cy="1747.5" r="9.6" fill="#9558a8" stroke="#0a0a0a" stroke-width="2.6"/><circle cx="748.3" cy="1760.0" r="9.6" fill="#9558a8" stroke="#0a0a0a" stroke-width="2.6"/><circle cx="750.0" cy="1774.2" r="9.6" fill="#9558a8" stroke="#0a0a0a" stroke-width="2.6"/><circle cx="786.7" cy="1784.2" r="9.6" fill="#9558a8" stroke="#0a0a0a" stroke-width="2.6"/><circle cx="748.3" cy="1797.5" r="9.6" fill="#9558a8" stroke="#0a0a0a" stroke-width="2.6"/><circle cx="722.5" cy="1823.3" r="9.6" fill="#9558a8" stroke="#0a0a0a" stroke-width="2.6"/><circle cx="730.0" cy="1823.3" r="9.6" fill="#9558a8" stroke="#0a0a0a" stroke-width="2.6"/><circle cx="748.7" cy="1823.3" r="9.6" fill="#9558a8" stroke="#0a0a0a" stroke-width="2.6"/><circle cx="914.7" cy="1823.3" r="9.6" fill="#9558a8" stroke="#0a0a0a" stroke-width="2.6"/><circle cx="757.5" cy="1847.5" r="9.6" fill="#9558a8" stroke="#0a0a0a" stroke-width="2.6"/><circle cx="763.3" cy="1847.5" r="9.6" fill="#9558a8" stroke="#0a0a0a" stroke-width="2.6"/><circle cx="835.0" cy="1848.3" r="9.6" fill="#9558a8" stroke="#0a0a0a" stroke-width="2.6"/><circle cx="695.8" cy="1873.3" r="9.6" fill="#9558a8" stroke="#0a0a0a" stroke-width="2.6"/><circle cx="748.3" cy="1874.2" r="9.6" fill="#9558a8" stroke="#0a0a0a" stroke-width="2.6"/><circle cx="763.3" cy="1874.2" r="9.6" fill="#9558a8" stroke="#0a0a0a" stroke-width="2.6"/><circle cx="771.7" cy="1874.2" r="9.6" fill="#9558a8" stroke="#0a0a0a" stroke-width="2.6"/><circle cx="811.7" cy="1873.3" r="9.6" fill="#9558a8" stroke="#0a0a0a" stroke-width="2.6"/><circle cx="825.8" cy="1885.0" r="9.6" fill="#9558a8" stroke="#0a0a0a" stroke-width="2.6"/><circle cx="909.2" cy="1873.3" r="9.6" fill="#9558a8" stroke="#0a0a0a" stroke-width="2.6"/><circle cx="772.5" cy="1898.3" r="9.6" fill="#9558a8" stroke="#0a0a0a" stroke-width="2.6"/><circle cx="922.5" cy="1898.3" r="9.6" fill="#9558a8" stroke="#0a0a0a" stroke-width="2.6"/><circle cx="751.7" cy="1914.2" r="9.6" fill="#9558a8" stroke="#0a0a0a" stroke-width="2.6"/><circle cx="748.3" cy="1923.3" r="9.6" fill="#9558a8" stroke="#0a0a0a" stroke-width="2.6"/><circle cx="766.7" cy="1924.2" r="9.6" fill="#9558a8" stroke="#0a0a0a" stroke-width="2.6"/><circle cx="775.0" cy="1924.2" r="9.6" fill="#9558a8" stroke="#0a0a0a" stroke-width="2.6"/><circle cx="780.8" cy="1923.3" r="9.6" fill="#9558a8" stroke="#0a0a0a" stroke-width="2.6"/><circle cx="818.3" cy="1924.2" r="9.6" fill="#9558a8" stroke="#0a0a0a" stroke-width="2.6"/><circle cx="905.0" cy="1924.2" r="9.6" fill="#9558a8" stroke="#0a0a0a" stroke-width="2.6"/><circle cx="925.0" cy="1924.2" r="9.6" fill="#9558a8" stroke="#0a0a0a" stroke-width="2.6"/><circle cx="935.0" cy="1924.2" r="9.6" fill="#9558a8" stroke="#0a0a0a" stroke-width="2.6"/><circle cx="746.7" cy="1935.0" r="9.6" fill="#9558a8" stroke="#0a0a0a" stroke-width="2.6"/><circle cx="667.5" cy="1948.3" r="9.6" fill="#9558a8" stroke="#0a0a0a" stroke-width="2.6"/><circle cx="712.5" cy="1945.8" r="9.6" fill="#9558a8" stroke="#0a0a0a" stroke-width="2.6"/><circle cx="747.5" cy="1948.3" r="9.6" fill="#9558a8" stroke="#0a0a0a" stroke-width="2.6"/><circle cx="771.7" cy="1948.3" r="9.6" fill="#9558a8" stroke="#0a0a0a" stroke-width="2.6"/><circle cx="826.7" cy="1948.3" r="9.6" fill="#9558a8" stroke="#0a0a0a" stroke-width="2.6"/><circle cx="835.8" cy="1948.3" r="9.6" fill="#9558a8" stroke="#0a0a0a" stroke-width="2.6"/><circle cx="924.2" cy="1948.3" r="9.6" fill="#9558a8" stroke="#0a0a0a" stroke-width="2.6"/><circle cx="928.3" cy="1948.3" r="9.6" fill="#9558a8" stroke="#0a0a0a" stroke-width="2.6"/><circle cx="771.7" cy="1961.7" r="9.6" fill="#9558a8" stroke="#0a0a0a" stroke-width="2.6"/><circle cx="778.3" cy="1961.7" r="9.6" fill="#9558a8" stroke="#0a0a0a" stroke-width="2.6"/><circle cx="805.0" cy="1960.8" r="9.6" fill="#9558a8" stroke="#0a0a0a" stroke-width="2.6"/><circle cx="815.0" cy="1961.7" r="9.6" fill="#9558a8" stroke="#0a0a0a" stroke-width="2.6"/><circle cx="693.3" cy="1973.3" r="9.6" fill="#9558a8" stroke="#0a0a0a" stroke-width="2.6"/><circle cx="749.2" cy="1978.3" r="9.6" fill="#9558a8" stroke="#0a0a0a" stroke-width="2.6"/><circle cx="820.0" cy="1987.5" r="9.6" fill="#9558a8" stroke="#0a0a0a" stroke-width="2.6"/><circle cx="750.0" cy="1999.2" r="9.6" fill="#9558a8" stroke="#0a0a0a" stroke-width="2.6"/><circle cx="761.7" cy="1999.2" r="9.6" fill="#9558a8" stroke="#0a0a0a" stroke-width="2.6"/><circle cx="770.8" cy="1999.2" r="9.6" fill="#9558a8" stroke="#0a0a0a" stroke-width="2.6"/><circle cx="795.8" cy="1998.3" r="9.6" fill="#9558a8" stroke="#0a0a0a" stroke-width="2.6"/><circle cx="688.3" cy="2011.7" r="9.6" fill="#9558a8" stroke="#0a0a0a" stroke-width="2.6"/><circle cx="705.0" cy="2023.3" r="9.6" fill="#9558a8" stroke="#0a0a0a" stroke-width="2.6"/><circle cx="739.2" cy="2023.3" r="9.6" fill="#9558a8" stroke="#0a0a0a" stroke-width="2.6"/><circle cx="673.3" cy="2023.3" r="9.6" fill="#9558a8" stroke="#0a0a0a" stroke-width="2.6"/><circle cx="825.8" cy="2010.8" r="9.6" fill="#9558a8" stroke="#0a0a0a" stroke-width="2.6"/><circle cx="800.8" cy="2023.3" r="9.6" fill="#9558a8" stroke="#0a0a0a" stroke-width="2.6"/><circle cx="815.0" cy="2023.3" r="9.6" fill="#9558a8" stroke="#0a0a0a" stroke-width="2.6"/><circle cx="868.3" cy="2022.5" r="9.6" fill="#9558a8" stroke="#0a0a0a" stroke-width="2.6"/><circle cx="764.2" cy="2035.8" r="9.6" fill="#9558a8" stroke="#0a0a0a" stroke-width="2.6"/><circle cx="781.7" cy="2035.8" r="9.6" fill="#9558a8" stroke="#0a0a0a" stroke-width="2.6"/><circle cx="808.3" cy="2040.0" r="9.6" fill="#9558a8" stroke="#0a0a0a" stroke-width="2.6"/><circle cx="673.3" cy="2050.0" r="9.6" fill="#9558a8" stroke="#0a0a0a" stroke-width="2.6"/><circle cx="770.0" cy="2049.2" r="9.6" fill="#9558a8" stroke="#0a0a0a" stroke-width="2.6"/><circle cx="825.0" cy="2049.2" r="9.6" fill="#9558a8" stroke="#0a0a0a" stroke-width="2.6"/><circle cx="800.0" cy="2056.7" r="9.6" fill="#9558a8" stroke="#0a0a0a" stroke-width="2.6"/><circle cx="904.2" cy="2049.2" r="9.6" fill="#9558a8" stroke="#0a0a0a" stroke-width="2.6"/><circle cx="708.3" cy="2073.3" r="9.6" fill="#9558a8" stroke="#0a0a0a" stroke-width="2.6"/><circle cx="772.5" cy="2069.2" r="9.6" fill="#9558a8" stroke="#0a0a0a" stroke-width="2.6"/><circle cx="783.3" cy="2074.2" r="9.6" fill="#9558a8" stroke="#0a0a0a" stroke-width="2.6"/><circle cx="817.5" cy="2069.2" r="9.6" fill="#9558a8" stroke="#0a0a0a" stroke-width="2.6"/><circle cx="866.7" cy="2099.2" r="9.6" fill="#9558a8" stroke="#0a0a0a" stroke-width="2.6"/><circle cx="661.7" cy="2086.7" r="9.6" fill="#9558a8" stroke="#0a0a0a" stroke-width="2.6"/><circle cx="682.5" cy="2108.3" r="9.6" fill="#9558a8" stroke="#0a0a0a" stroke-width="2.6"/><circle cx="1123.3" cy="1697.5" r="9.6" fill="#9558a8" stroke="#0a0a0a" stroke-width="2.6"/><circle cx="1115.3" cy="1730.8" r="9.6" fill="#9558a8" stroke="#0a0a0a" stroke-width="2.6"/><circle cx="1134.5" cy="1848.0" r="9.6" fill="#9558a8" stroke="#0a0a0a" stroke-width="2.6"/><circle cx="1133.3" cy="1860.8" r="9.6" fill="#9558a8" stroke="#0a0a0a" stroke-width="2.6"/><circle cx="1137.5" cy="1874.2" r="9.6" fill="#9558a8" stroke="#0a0a0a" stroke-width="2.6"/><circle cx="1126.3" cy="1874.2" r="9.6" fill="#9558a8" stroke="#0a0a0a" stroke-width="2.6"/><circle cx="1159.2" cy="1874.2" r="9.6" fill="#9558a8" stroke="#0a0a0a" stroke-width="2.6"/><circle cx="1180.8" cy="1848.0" r="9.6" fill="#9558a8" stroke="#0a0a0a" stroke-width="2.6"/><circle cx="1136.2" cy="1924.2" r="9.6" fill="#9558a8" stroke="#0a0a0a" stroke-width="2.6"/><circle cx="1124.2" cy="1935.0" r="9.6" fill="#9558a8" stroke="#0a0a0a" stroke-width="2.6"/><circle cx="1130.0" cy="1948.3" r="9.6" fill="#9558a8" stroke="#0a0a0a" stroke-width="2.6"/><circle cx="1121.7" cy="1953.3" r="9.6" fill="#9558a8" stroke="#0a0a0a" stroke-width="2.6"/><circle cx="1146.3" cy="1961.3" r="9.6" fill="#9558a8" stroke="#0a0a0a" stroke-width="2.6"/><circle cx="1097.0" cy="1973.0" r="9.6" fill="#9558a8" stroke="#0a0a0a" stroke-width="2.6"/><circle cx="1126.3" cy="1973.0" r="9.6" fill="#9558a8" stroke="#0a0a0a" stroke-width="2.6"/><circle cx="1162.0" cy="1973.0" r="9.6" fill="#9558a8" stroke="#0a0a0a" stroke-width="2.6"/><circle cx="1142.5" cy="1983.3" r="9.6" fill="#9558a8" stroke="#0a0a0a" stroke-width="2.6"/><circle cx="1170.0" cy="1985.8" r="9.6" fill="#9558a8" stroke="#0a0a0a" stroke-width="2.6"/><circle cx="1124.2" cy="1996.3" r="9.6" fill="#9558a8" stroke="#0a0a0a" stroke-width="2.6"/><circle cx="1140.8" cy="1998.3" r="9.6" fill="#9558a8" stroke="#0a0a0a" stroke-width="2.6"/><circle cx="1166.7" cy="1999.2" r="9.6" fill="#9558a8" stroke="#0a0a0a" stroke-width="2.6"/><circle cx="1134.5" cy="2010.8" r="9.6" fill="#9558a8" stroke="#0a0a0a" stroke-width="2.6"/><circle cx="1145.8" cy="2023.3" r="9.6" fill="#9558a8" stroke="#0a0a0a" stroke-width="2.6"/><circle cx="1153.3" cy="2023.3" r="9.6" fill="#9558a8" stroke="#0a0a0a" stroke-width="2.6"/><circle cx="1111.7" cy="2035.8" r="9.6" fill="#9558a8" stroke="#0a0a0a" stroke-width="2.6"/><circle cx="1145.8" cy="2035.8" r="9.6" fill="#9558a8" stroke="#0a0a0a" stroke-width="2.6"/><circle cx="1107.5" cy="2049.2" r="9.6" fill="#9558a8" stroke="#0a0a0a" stroke-width="2.6"/><circle cx="1149.2" cy="2049.2" r="9.6" fill="#9558a8" stroke="#0a0a0a" stroke-width="2.6"/><circle cx="1047.0" cy="2049.2" r="9.6" fill="#9558a8" stroke="#0a0a0a" stroke-width="2.6"/><circle cx="1193.3" cy="2049.2" r="9.6" fill="#9558a8" stroke="#0a0a0a" stroke-width="2.6"/><circle cx="1116.7" cy="2110.0" r="9.6" fill="#9558a8" stroke="#0a0a0a" stroke-width="2.6"/><circle cx="1277.5" cy="1910.8" r="9.6" fill="#9558a8" stroke="#0a0a0a" stroke-width="2.6"/><circle cx="1279.2" cy="1948.3" r="9.6" fill="#9558a8" stroke="#0a0a0a" stroke-width="2.6"/><circle cx="1287.5" cy="1948.3" r="9.6" fill="#9558a8" stroke="#0a0a0a" stroke-width="2.6"/><circle cx="1307.5" cy="1948.3" r="9.6" fill="#9558a8" stroke="#0a0a0a" stroke-width="2.6"/><circle cx="1331.7" cy="1961.3" r="9.6" fill="#9558a8" stroke="#0a0a0a" stroke-width="2.6"/><circle cx="1331.7" cy="1973.3" r="9.6" fill="#9558a8" stroke="#0a0a0a" stroke-width="2.6"/><circle cx="1282.5" cy="1998.3" r="9.6" fill="#9558a8" stroke="#0a0a0a" stroke-width="2.6"/><circle cx="1295.8" cy="1999.2" r="9.6" fill="#9558a8" stroke="#0a0a0a" stroke-width="2.6"/><circle cx="1277.5" cy="2011.7" r="9.6" fill="#9558a8" stroke="#0a0a0a" stroke-width="2.6"/><circle cx="1321.7" cy="2020.0" r="9.6" fill="#9558a8" stroke="#0a0a0a" stroke-width="2.6"/><circle cx="1298.0" cy="2035.8" r="9.6" fill="#9558a8" stroke="#0a0a0a" stroke-width="2.6"/><circle cx="1273.3" cy="2049.2" r="9.6" fill="#9558a8" stroke="#0a0a0a" stroke-width="2.6"/><circle cx="1279.2" cy="2048.3" r="9.6" fill="#9558a8" stroke="#0a0a0a" stroke-width="2.6"/><circle cx="1465.8" cy="1998.7" r="9.6" fill="#9558a8" stroke="#0a0a0a" stroke-width="2.6"/><circle cx="1335.0" cy="2076.7" r="9.6" fill="#9558a8" stroke="#0a0a0a" stroke-width="2.6"/><circle cx="1462.8" cy="2112.0" r="9.6" fill="#9558a8" stroke="#0a0a0a" stroke-width="2.6"/><circle cx="1568.3" cy="2011.7" r="9.6" fill="#9558a8" stroke="#0a0a0a" stroke-width="2.6"/><circle cx="1545" cy="2123.7" r="9.6" fill="#9558a8" stroke="#0a0a0a" stroke-width="2.6"/>
<circle cx="820.0" cy="1998.3" r="9.6" fill="#ec1c24" stroke="#0a0a0a" stroke-width="2.6"/><circle cx="800.8" cy="2011.7" r="9.6" fill="#ec1c24" stroke="#0a0a0a" stroke-width="2.6"/><circle cx="672.5" cy="2036.7" r="9.6" fill="#ec1c24" stroke="#0a0a0a" stroke-width="2.6"/><circle cx="745.0" cy="2049.2" r="9.6" fill="#ec1c24" stroke="#0a0a0a" stroke-width="2.6"/><circle cx="810.0" cy="2049.2" r="9.6" fill="#ec1c24" stroke="#0a0a0a" stroke-width="2.6"/><circle cx="820.0" cy="2049.2" r="9.6" fill="#ec1c24" stroke="#0a0a0a" stroke-width="2.6"/><circle cx="734.2" cy="2062.5" r="9.6" fill="#ec1c24" stroke="#0a0a0a" stroke-width="2.6"/><circle cx="779.2" cy="2061.7" r="9.6" fill="#ec1c24" stroke="#0a0a0a" stroke-width="2.6"/><circle cx="753.3" cy="2073.3" r="9.6" fill="#ec1c24" stroke="#0a0a0a" stroke-width="2.6"/><circle cx="805.0" cy="2073.3" r="9.6" fill="#ec1c24" stroke="#0a0a0a" stroke-width="2.6"/><circle cx="859.2" cy="2073.3" r="9.6" fill="#ec1c24" stroke="#0a0a0a" stroke-width="2.6"/><circle cx="672.5" cy="2073.3" r="9.6" fill="#ec1c24" stroke="#0a0a0a" stroke-width="2.6"/><circle cx="920.0" cy="2060.8" r="9.6" fill="#ec1c24" stroke="#0a0a0a" stroke-width="2.6"/><circle cx="911.7" cy="2073.3" r="9.6" fill="#ec1c24" stroke="#0a0a0a" stroke-width="2.6"/><circle cx="923.3" cy="2074.2" r="9.6" fill="#ec1c24" stroke="#0a0a0a" stroke-width="2.6"/><circle cx="680.8" cy="2085.8" r="9.6" fill="#ec1c24" stroke="#0a0a0a" stroke-width="2.6"/><circle cx="668.3" cy="2099.2" r="9.6" fill="#ec1c24" stroke="#0a0a0a" stroke-width="2.6"/><circle cx="715.0" cy="2099.2" r="9.6" fill="#ec1c24" stroke="#0a0a0a" stroke-width="2.6"/><circle cx="733.3" cy="2099.2" r="9.6" fill="#ec1c24" stroke="#0a0a0a" stroke-width="2.6"/><circle cx="753.3" cy="2099.2" r="9.6" fill="#ec1c24" stroke="#0a0a0a" stroke-width="2.6"/><circle cx="795.0" cy="2099.2" r="9.6" fill="#ec1c24" stroke="#0a0a0a" stroke-width="2.6"/><circle cx="822.5" cy="2098.3" r="9.6" fill="#ec1c24" stroke="#0a0a0a" stroke-width="2.6"/><circle cx="838.3" cy="2090.8" r="9.6" fill="#ec1c24" stroke="#0a0a0a" stroke-width="2.6"/><circle cx="844.2" cy="2100.0" r="9.6" fill="#ec1c24" stroke="#0a0a0a" stroke-width="2.6"/><circle cx="899.2" cy="2098.3" r="9.6" fill="#ec1c24" stroke="#0a0a0a" stroke-width="2.6"/><circle cx="917.5" cy="2096.7" r="9.6" fill="#ec1c24" stroke="#0a0a0a" stroke-width="2.6"/><circle cx="670.8" cy="2115.8" r="9.6" fill="#ec1c24" stroke="#0a0a0a" stroke-width="2.6"/><circle cx="734.2" cy="2117.5" r="9.6" fill="#ec1c24" stroke="#0a0a0a" stroke-width="2.6"/><circle cx="745.0" cy="2123.3" r="9.6" fill="#ec1c24" stroke="#0a0a0a" stroke-width="2.6"/><circle cx="770.0" cy="2111.7" r="9.6" fill="#ec1c24" stroke="#0a0a0a" stroke-width="2.6"/><circle cx="791.7" cy="2112.5" r="9.6" fill="#ec1c24" stroke="#0a0a0a" stroke-width="2.6"/><circle cx="819.2" cy="2111.7" r="9.6" fill="#ec1c24" stroke="#0a0a0a" stroke-width="2.6"/><circle cx="795.8" cy="2123.3" r="9.6" fill="#ec1c24" stroke="#0a0a0a" stroke-width="2.6"/><circle cx="824.2" cy="2124.2" r="9.6" fill="#ec1c24" stroke="#0a0a0a" stroke-width="2.6"/><circle cx="851.7" cy="2124.2" r="9.6" fill="#ec1c24" stroke="#0a0a0a" stroke-width="2.6"/><circle cx="860.0" cy="2124.2" r="9.6" fill="#ec1c24" stroke="#0a0a0a" stroke-width="2.6"/><circle cx="894.2" cy="2111.7" r="9.6" fill="#ec1c24" stroke="#0a0a0a" stroke-width="2.6"/><circle cx="906.7" cy="2107.5" r="9.6" fill="#ec1c24" stroke="#0a0a0a" stroke-width="2.6"/><circle cx="912.5" cy="2115.8" r="9.6" fill="#ec1c24" stroke="#0a0a0a" stroke-width="2.6"/><circle cx="887.5" cy="2130.8" r="9.6" fill="#ec1c24" stroke="#0a0a0a" stroke-width="2.6"/><circle cx="911.7" cy="2129.2" r="9.6" fill="#ec1c24" stroke="#0a0a0a" stroke-width="2.6"/><circle cx="923.3" cy="2135.8" r="9.6" fill="#ec1c24" stroke="#0a0a0a" stroke-width="2.6"/><circle cx="670.0" cy="2135.8" r="9.6" fill="#ec1c24" stroke="#0a0a0a" stroke-width="2.6"/><circle cx="681.7" cy="2135.8" r="9.6" fill="#ec1c24" stroke="#0a0a0a" stroke-width="2.6"/><circle cx="693.3" cy="2135.0" r="9.6" fill="#ec1c24" stroke="#0a0a0a" stroke-width="2.6"/><circle cx="795.0" cy="2135.0" r="9.6" fill="#ec1c24" stroke="#0a0a0a" stroke-width="2.6"/><circle cx="703.3" cy="2146.7" r="9.6" fill="#ec1c24" stroke="#0a0a0a" stroke-width="2.6"/><circle cx="748.3" cy="2146.7" r="9.6" fill="#ec1c24" stroke="#0a0a0a" stroke-width="2.6"/><circle cx="771.7" cy="2146.7" r="9.6" fill="#ec1c24" stroke="#0a0a0a" stroke-width="2.6"/><circle cx="805.0" cy="2146.7" r="9.6" fill="#ec1c24" stroke="#0a0a0a" stroke-width="2.6"/><circle cx="898.3" cy="2148.3" r="9.6" fill="#ec1c24" stroke="#0a0a0a" stroke-width="2.6"/><circle cx="912.5" cy="2147.5" r="9.6" fill="#ec1c24" stroke="#0a0a0a" stroke-width="2.6"/><circle cx="670.0" cy="2149.2" r="9.6" fill="#ec1c24" stroke="#0a0a0a" stroke-width="2.6"/><circle cx="689.2" cy="2150.0" r="9.6" fill="#ec1c24" stroke="#0a0a0a" stroke-width="2.6"/><circle cx="670.0" cy="2160.8" r="9.6" fill="#ec1c24" stroke="#0a0a0a" stroke-width="2.6"/><circle cx="698.7" cy="2161.7" r="9.6" fill="#ec1c24" stroke="#0a0a0a" stroke-width="2.6"/><circle cx="689.2" cy="2186.7" r="9.6" fill="#ec1c24" stroke="#0a0a0a" stroke-width="2.6"/><circle cx="738.3" cy="2160.8" r="9.6" fill="#ec1c24" stroke="#0a0a0a" stroke-width="2.6"/><circle cx="750.8" cy="2162.5" r="9.6" fill="#ec1c24" stroke="#0a0a0a" stroke-width="2.6"/><circle cx="783.3" cy="2160.8" r="9.6" fill="#ec1c24" stroke="#0a0a0a" stroke-width="2.6"/><circle cx="808.3" cy="2149.2" r="9.6" fill="#ec1c24" stroke="#0a0a0a" stroke-width="2.6"/><circle cx="803.3" cy="2162.5" r="9.6" fill="#ec1c24" stroke="#0a0a0a" stroke-width="2.6"/><circle cx="797.5" cy="2170.8" r="9.6" fill="#ec1c24" stroke="#0a0a0a" stroke-width="2.6"/><circle cx="794.2" cy="2175.8" r="9.6" fill="#ec1c24" stroke="#0a0a0a" stroke-width="2.6"/><circle cx="807.5" cy="2186.7" r="9.6" fill="#ec1c24" stroke="#0a0a0a" stroke-width="2.6"/><circle cx="815.0" cy="2186.7" r="9.6" fill="#ec1c24" stroke="#0a0a0a" stroke-width="2.6"/><circle cx="793.3" cy="2201.7" r="9.6" fill="#ec1c24" stroke="#0a0a0a" stroke-width="2.6"/><circle cx="897.5" cy="2154.2" r="9.6" fill="#ec1c24" stroke="#0a0a0a" stroke-width="2.6"/><circle cx="920.0" cy="2161.7" r="9.6" fill="#ec1c24" stroke="#0a0a0a" stroke-width="2.6"/><circle cx="894.2" cy="2161.7" r="9.6" fill="#ec1c24" stroke="#0a0a0a" stroke-width="2.6"/><circle cx="895.0" cy="2174.2" r="9.6" fill="#ec1c24" stroke="#0a0a0a" stroke-width="2.6"/><circle cx="902.5" cy="2174.2" r="9.6" fill="#ec1c24" stroke="#0a0a0a" stroke-width="2.6"/><circle cx="920.0" cy="2186.7" r="9.6" fill="#ec1c24" stroke="#0a0a0a" stroke-width="2.6"/><circle cx="925.0" cy="2186.7" r="9.6" fill="#ec1c24" stroke="#0a0a0a" stroke-width="2.6"/><circle cx="1122.5" cy="2023.3" r="9.6" fill="#ec1c24" stroke="#0a0a0a" stroke-width="2.6"/><circle cx="1126.7" cy="2036.7" r="9.6" fill="#ec1c24" stroke="#0a0a0a" stroke-width="2.6"/><circle cx="1136.7" cy="2061.7" r="9.6" fill="#ec1c24" stroke="#0a0a0a" stroke-width="2.6"/><circle cx="1150.0" cy="2061.7" r="9.6" fill="#ec1c24" stroke="#0a0a0a" stroke-width="2.6"/><circle cx="1115.8" cy="2072.5" r="9.6" fill="#ec1c24" stroke="#0a0a0a" stroke-width="2.6"/><circle cx="1134.2" cy="2073.3" r="9.6" fill="#ec1c24" stroke="#0a0a0a" stroke-width="2.6"/><circle cx="1159.2" cy="2073.3" r="9.6" fill="#ec1c24" stroke="#0a0a0a" stroke-width="2.6"/><circle cx="1105.0" cy="2086.7" r="9.6" fill="#ec1c24" stroke="#0a0a0a" stroke-width="2.6"/><circle cx="1123.0" cy="2081.7" r="9.6" fill="#ec1c24" stroke="#0a0a0a" stroke-width="2.6"/><circle cx="1143.3" cy="2093.3" r="9.6" fill="#ec1c24" stroke="#0a0a0a" stroke-width="2.6"/><circle cx="1160.0" cy="2098.3" r="9.6" fill="#ec1c24" stroke="#0a0a0a" stroke-width="2.6"/><circle cx="1095.0" cy="2100.8" r="9.6" fill="#ec1c24" stroke="#0a0a0a" stroke-width="2.6"/><circle cx="1090.0" cy="2111.7" r="9.6" fill="#ec1c24" stroke="#0a0a0a" stroke-width="2.6"/><circle cx="1140.8" cy="2105.8" r="9.6" fill="#ec1c24" stroke="#0a0a0a" stroke-width="2.6"/><circle cx="1177.5" cy="2111.7" r="9.6" fill="#ec1c24" stroke="#0a0a0a" stroke-width="2.6"/><circle cx="1112.5" cy="2124.2" r="9.6" fill="#ec1c24" stroke="#0a0a0a" stroke-width="2.6"/><circle cx="1123.3" cy="2124.2" r="9.6" fill="#ec1c24" stroke="#0a0a0a" stroke-width="2.6"/><circle cx="1137.5" cy="2124.2" r="9.6" fill="#ec1c24" stroke="#0a0a0a" stroke-width="2.6"/><circle cx="1159.2" cy="2124.2" r="9.6" fill="#ec1c24" stroke="#0a0a0a" stroke-width="2.6"/><circle cx="1170.0" cy="2125.8" r="9.6" fill="#ec1c24" stroke="#0a0a0a" stroke-width="2.6"/><circle cx="1196.7" cy="2123.3" r="9.6" fill="#ec1c24" stroke="#0a0a0a" stroke-width="2.6"/><circle cx="1084.2" cy="2133.3" r="9.6" fill="#ec1c24" stroke="#0a0a0a" stroke-width="2.6"/><circle cx="1095.8" cy="2134.2" r="9.6" fill="#ec1c24" stroke="#0a0a0a" stroke-width="2.6"/><circle cx="1115.0" cy="2133.3" r="9.6" fill="#ec1c24" stroke="#0a0a0a" stroke-width="2.6"/><circle cx="1125.0" cy="2138.3" r="9.6" fill="#ec1c24" stroke="#0a0a0a" stroke-width="2.6"/><circle cx="1171.7" cy="2131.7" r="9.6" fill="#ec1c24" stroke="#0a0a0a" stroke-width="2.6"/><circle cx="1181.7" cy="2137.5" r="9.6" fill="#ec1c24" stroke="#0a0a0a" stroke-width="2.6"/><circle cx="1081.7" cy="2149.2" r="9.6" fill="#ec1c24" stroke="#0a0a0a" stroke-width="2.6"/><circle cx="1107.5" cy="2149.2" r="9.6" fill="#ec1c24" stroke="#0a0a0a" stroke-width="2.6"/><circle cx="1121.7" cy="2149.2" r="9.6" fill="#ec1c24" stroke="#0a0a0a" stroke-width="2.6"/><circle cx="1140.0" cy="2147.5" r="9.6" fill="#ec1c24" stroke="#0a0a0a" stroke-width="2.6"/><circle cx="1150.8" cy="2145.0" r="9.6" fill="#ec1c24" stroke="#0a0a0a" stroke-width="2.6"/><circle cx="1158.3" cy="2145.0" r="9.6" fill="#ec1c24" stroke="#0a0a0a" stroke-width="2.6"/><circle cx="1143.3" cy="2157.5" r="9.6" fill="#ec1c24" stroke="#0a0a0a" stroke-width="2.6"/><circle cx="1175.8" cy="2156.7" r="9.6" fill="#ec1c24" stroke="#0a0a0a" stroke-width="2.6"/><circle cx="1098.3" cy="2165.8" r="9.6" fill="#ec1c24" stroke="#0a0a0a" stroke-width="2.6"/><circle cx="1091.7" cy="2174.2" r="9.6" fill="#ec1c24" stroke="#0a0a0a" stroke-width="2.6"/><circle cx="1115.8" cy="2173.3" r="9.6" fill="#ec1c24" stroke="#0a0a0a" stroke-width="2.6"/><circle cx="1108.3" cy="2179.2" r="9.6" fill="#ec1c24" stroke="#0a0a0a" stroke-width="2.6"/><circle cx="1140.8" cy="2174.2" r="9.6" fill="#ec1c24" stroke="#0a0a0a" stroke-width="2.6"/><circle cx="1191.7" cy="2186.7" r="9.6" fill="#ec1c24" stroke="#0a0a0a" stroke-width="2.6"/><circle cx="986.7" cy="2073.3" r="9.6" fill="#ec1c24" stroke="#0a0a0a" stroke-width="2.6"/><circle cx="950.3" cy="2093.3" r="9.6" fill="#ec1c24" stroke="#0a0a0a" stroke-width="2.6"/><circle cx="956.7" cy="2109.2" r="9.6" fill="#ec1c24" stroke="#0a0a0a" stroke-width="2.6"/><circle cx="983.8" cy="2099.2" r="9.6" fill="#ec1c24" stroke="#0a0a0a" stroke-width="2.6"/><circle cx="1035.0" cy="2086.3" r="9.6" fill="#ec1c24" stroke="#0a0a0a" stroke-width="2.6"/><circle cx="1070.0" cy="2085.0" r="9.6" fill="#ec1c24" stroke="#0a0a0a" stroke-width="2.6"/><circle cx="1071.7" cy="2091.7" r="9.6" fill="#ec1c24" stroke="#0a0a0a" stroke-width="2.6"/><circle cx="1059.2" cy="2100.0" r="9.6" fill="#ec1c24" stroke="#0a0a0a" stroke-width="2.6"/><circle cx="1060.0" cy="2123.3" r="9.6" fill="#ec1c24" stroke="#0a0a0a" stroke-width="2.6"/><circle cx="960.8" cy="2135.8" r="9.6" fill="#ec1c24" stroke="#0a0a0a" stroke-width="2.6"/><circle cx="963.3" cy="2149.2" r="9.6" fill="#ec1c24" stroke="#0a0a0a" stroke-width="2.6"/><circle cx="958.3" cy="2165.8" r="9.6" fill="#ec1c24" stroke="#0a0a0a" stroke-width="2.6"/><circle cx="1054.2" cy="2149.2" r="9.6" fill="#ec1c24" stroke="#0a0a0a" stroke-width="2.6"/><circle cx="1065.8" cy="2157.5" r="9.6" fill="#ec1c24" stroke="#0a0a0a" stroke-width="2.6"/><circle cx="1056.7" cy="2162.5" r="9.6" fill="#ec1c24" stroke="#0a0a0a" stroke-width="2.6"/><circle cx="960.8" cy="2197.5" r="9.6" fill="#ec1c24" stroke="#0a0a0a" stroke-width="2.6"/><circle cx="1023.3" cy="2198.3" r="9.6" fill="#ec1c24" stroke="#0a0a0a" stroke-width="2.6"/><circle cx="1116.7" cy="2198.3" r="9.6" fill="#ec1c24" stroke="#0a0a0a" stroke-width="2.6"/><circle cx="1169.2" cy="2198.3" r="9.6" fill="#ec1c24" stroke="#0a0a0a" stroke-width="2.6"/><circle cx="991.7" cy="2211.7" r="9.6" fill="#ec1c24" stroke="#0a0a0a" stroke-width="2.6"/><circle cx="1010.8" cy="2211.7" r="9.6" fill="#ec1c24" stroke="#0a0a0a" stroke-width="2.6"/><circle cx="944.2" cy="2236.7" r="9.6" fill="#ec1c24" stroke="#0a0a0a" stroke-width="2.6"/><circle cx="1110.0" cy="2224.2" r="9.6" fill="#ec1c24" stroke="#0a0a0a" stroke-width="2.6"/><circle cx="1291.7" cy="1973.3" r="9.6" fill="#ec1c24" stroke="#0a0a0a" stroke-width="2.6"/><circle cx="1331.7" cy="2023.3" r="9.6" fill="#ec1c24" stroke="#0a0a0a" stroke-width="2.6"/><circle cx="1336.7" cy="2048.7" r="9.6" fill="#ec1c24" stroke="#0a0a0a" stroke-width="2.6"/><circle cx="1335.0" cy="2061.7" r="9.6" fill="#ec1c24" stroke="#0a0a0a" stroke-width="2.6"/><circle cx="1348.3" cy="2061.7" r="9.6" fill="#ec1c24" stroke="#0a0a0a" stroke-width="2.6"/><circle cx="1282.5" cy="2060.8" r="9.6" fill="#ec1c24" stroke="#0a0a0a" stroke-width="2.6"/><circle cx="1282.5" cy="2073.3" r="9.6" fill="#ec1c24" stroke="#0a0a0a" stroke-width="2.6"/><circle cx="1295.0" cy="2073.3" r="9.6" fill="#ec1c24" stroke="#0a0a0a" stroke-width="2.6"/><circle cx="1312.5" cy="2073.3" r="9.6" fill="#ec1c24" stroke="#0a0a0a" stroke-width="2.6"/><circle cx="1361.7" cy="2073.3" r="9.6" fill="#ec1c24" stroke="#0a0a0a" stroke-width="2.6"/><circle cx="1336.7" cy="2085.8" r="9.6" fill="#ec1c24" stroke="#0a0a0a" stroke-width="2.6"/><circle cx="1282.5" cy="2085.8" r="9.6" fill="#ec1c24" stroke="#0a0a0a" stroke-width="2.6"/><circle cx="1291.7" cy="2092.5" r="9.6" fill="#ec1c24" stroke="#0a0a0a" stroke-width="2.6"/><circle cx="1295.0" cy="2100.0" r="9.6" fill="#ec1c24" stroke="#0a0a0a" stroke-width="2.6"/><circle cx="1269.2" cy="2099.2" r="9.6" fill="#ec1c24" stroke="#0a0a0a" stroke-width="2.6"/><circle cx="1327.5" cy="2099.2" r="9.6" fill="#ec1c24" stroke="#0a0a0a" stroke-width="2.6"/><circle cx="1283.3" cy="2113.3" r="9.6" fill="#ec1c24" stroke="#0a0a0a" stroke-width="2.6"/><circle cx="1318.3" cy="2111.7" r="9.6" fill="#ec1c24" stroke="#0a0a0a" stroke-width="2.6"/><circle cx="1276.7" cy="2120.8" r="9.6" fill="#ec1c24" stroke="#0a0a0a" stroke-width="2.6"/><circle cx="1302.5" cy="2123.3" r="9.6" fill="#ec1c24" stroke="#0a0a0a" stroke-width="2.6"/><circle cx="1322.5" cy="2124.2" r="9.6" fill="#ec1c24" stroke="#0a0a0a" stroke-width="2.6"/><circle cx="1326.7" cy="2130.8" r="9.6" fill="#ec1c24" stroke="#0a0a0a" stroke-width="2.6"/><circle cx="1342.5" cy="2123.3" r="9.6" fill="#ec1c24" stroke="#0a0a0a" stroke-width="2.6"/><circle cx="1358.7" cy="2120.8" r="9.6" fill="#ec1c24" stroke="#0a0a0a" stroke-width="2.6"/><circle cx="1386.7" cy="2120.0" r="9.6" fill="#ec1c24" stroke="#0a0a0a" stroke-width="2.6"/><circle cx="1283.3" cy="2144.2" r="9.6" fill="#ec1c24" stroke="#0a0a0a" stroke-width="2.6"/><circle cx="1272.5" cy="2148.3" r="9.6" fill="#ec1c24" stroke="#0a0a0a" stroke-width="2.6"/><circle cx="1270.8" cy="2160.8" r="9.6" fill="#ec1c24" stroke="#0a0a0a" stroke-width="2.6"/><circle cx="1245.0" cy="2156.7" r="9.6" fill="#ec1c24" stroke="#0a0a0a" stroke-width="2.6"/><circle cx="1314.7" cy="2156.3" r="9.6" fill="#ec1c24" stroke="#0a0a0a" stroke-width="2.6"/><circle cx="1331.7" cy="2156.7" r="9.6" fill="#ec1c24" stroke="#0a0a0a" stroke-width="2.6"/><circle cx="1330.0" cy="2162.5" r="9.6" fill="#ec1c24" stroke="#0a0a0a" stroke-width="2.6"/><circle cx="1297.5" cy="2174.2" r="9.6" fill="#ec1c24" stroke="#0a0a0a" stroke-width="2.6"/><circle cx="1316.7" cy="2174.2" r="9.6" fill="#ec1c24" stroke="#0a0a0a" stroke-width="2.6"/><circle cx="1344.2" cy="2174.2" r="9.6" fill="#ec1c24" stroke="#0a0a0a" stroke-width="2.6"/><circle cx="1245.0" cy="2184.2" r="9.6" fill="#ec1c24" stroke="#0a0a0a" stroke-width="2.6"/><circle cx="1339.2" cy="2200.0" r="9.6" fill="#ec1c24" stroke="#0a0a0a" stroke-width="2.6"/><circle cx="1294.2" cy="2208.7" r="9.6" fill="#ec1c24" stroke="#0a0a0a" stroke-width="2.6"/><circle cx="1315.8" cy="2236.7" r="9.6" fill="#ec1c24" stroke="#0a0a0a" stroke-width="2.6"/><circle cx="1422.5" cy="2146.7" r="9.6" fill="#ec1c24" stroke="#0a0a0a" stroke-width="2.6"/><circle cx="1483.7" cy="2149.2" r="9.6" fill="#ec1c24" stroke="#0a0a0a" stroke-width="2.6"/><circle cx="1570.8" cy="2123.7" r="9.6" fill="#ec1c24" stroke="#0a0a0a" stroke-width="2.6"/>
<text x="851.5" y="1545.7" font-size="59.5" font-style="italic" fill="#1d6f8a">low</text>
<text x="851.5" y="1618.7" font-size="60.5" font-style="italic" fill="#1d6f8a">T/P</text>
<text x="1112.5" y="1816.7" font-size="60.8" font-style="italic" fill="#5e2a86">inter T/P</text>
<text x="1287.5" y="2295.7" font-size="61.3" font-style="italic" fill="#b0472a">highT/P</text>
<text x="1186.5" y="1385" font-size="36.6" font-style="italic" fill="#7f2a18">crustal</text>
<text x="1160.5" y="1428" font-size="36.6" font-style="italic" fill="#7f2a18">reworking</text>
<rect x="843.3" y="2284" width="2.4" height="10" fill="#8fd14f"/>
<rect x="869" y="2285" width="2.5" height="1.6" fill="#8fd14f"/>
<rect x="1508.8" y="2305.5" width="2" height="3" fill="#ff7b1a"/>
<path d="M665.6,2327.3 L665.6,1187.3 L1612.7,1187.3 L1612.7,2327.3 Z" fill="none" stroke="#0a0a0a" stroke-width="4.4"/>
<line x1="665.6" y1="2325.2" x2="651.4" y2="2325.2" stroke="#0a0a0a" stroke-width="3.6"/>
<text x="626.5" y="2338.3" font-size="54.5" fill="#0a0a0a" text-anchor="end">0</text>
<line x1="665.6" y1="2074.6" x2="651.4" y2="2074.6" stroke="#0a0a0a" stroke-width="3.6"/>
<text x="626.5" y="2087.7" font-size="54.5" fill="#0a0a0a" text-anchor="end">1</text>
<line x1="665.6" y1="1824.0" x2="651.4" y2="1824.0" stroke="#0a0a0a" stroke-width="3.6"/>
<text x="626.5" y="1837.1" font-size="54.5" fill="#0a0a0a" text-anchor="end">2</text>
<line x1="665.6" y1="1573.4" x2="651.4" y2="1573.4" stroke="#0a0a0a" stroke-width="3.6"/>
<text x="626.5" y="1586.5" font-size="54.5" fill="#0a0a0a" text-anchor="end">3</text>
<line x1="665.6" y1="1322.8" x2="651.4" y2="1322.8" stroke="#0a0a0a" stroke-width="3.6"/>
<text x="626.5" y="1335.9" font-size="54.5" fill="#0a0a0a" text-anchor="end">4</text>
<line x1="664.6" y1="2327.3" x2="664.6" y2="2345" stroke="#0a0a0a" stroke-width="4.2"/>
<line x1="788.2" y1="2327.3" x2="788.2" y2="2345" stroke="#0a0a0a" stroke-width="4.2"/>
<line x1="911.9" y1="2327.3" x2="911.9" y2="2345" stroke="#0a0a0a" stroke-width="4.2"/>
<line x1="1035.6" y1="2327.3" x2="1035.6" y2="2345" stroke="#0a0a0a" stroke-width="4.2"/>
<line x1="1159.2" y1="2327.3" x2="1159.2" y2="2345" stroke="#0a0a0a" stroke-width="4.2"/>
<line x1="1282.8" y1="2327.3" x2="1282.8" y2="2345" stroke="#0a0a0a" stroke-width="4.2"/>
<line x1="1406.5" y1="2327.3" x2="1406.5" y2="2345" stroke="#0a0a0a" stroke-width="4.2"/>
<line x1="1530.2" y1="2327.3" x2="1530.2" y2="2345" stroke="#0a0a0a" stroke-width="4.2"/>
<text x="664.6" y="2404.5" font-size="54.5" fill="#0a0a0a" text-anchor="middle">0</text>
<text x="911.9" y="2404.5" font-size="54.5" fill="#0a0a0a" text-anchor="middle">1</text>
<text x="1159.2" y="2404.5" font-size="54.5" fill="#0a0a0a" text-anchor="middle">2</text>
<text x="1406.5" y="2404.5" font-size="54.5" fill="#0a0a0a" text-anchor="middle">3</text>
<line x1="1612.7" y1="1198.5" x2="1628.7" y2="1198.5" stroke="#0a0a0a" stroke-width="4.6"/>
<text x="1639" y="1210.8" font-size="31.5" fill="#0a0a0a">100</text>
<line x1="1612.7" y1="1480.2" x2="1628.7" y2="1480.2" stroke="#0a0a0a" stroke-width="4.6"/>
<text x="1639" y="1492.5" font-size="31.5" fill="#0a0a0a">75</text>
<line x1="1612.7" y1="1761.9" x2="1628.7" y2="1761.9" stroke="#0a0a0a" stroke-width="4.6"/>
<text x="1639" y="1774.2" font-size="31.5" fill="#0a0a0a">50</text>
<line x1="1612.7" y1="2043.6" x2="1628.7" y2="2043.6" stroke="#0a0a0a" stroke-width="4.6"/>
<text x="1639" y="2055.9" font-size="31.5" fill="#0a0a0a">25</text>
<line x1="1612.7" y1="2325.3" x2="1628.7" y2="2325.3" stroke="#0a0a0a" stroke-width="4.6"/>
<text x="1639" y="2337.6" font-size="31.5" fill="#0a0a0a">0</text>
<text x="1714.5" y="1640" font-size="60.5" fill="#0a0a0a" text-anchor="middle">(%)</text>
<text x="1152.4" y="2483.5" font-size="73" fill="#0a0a0a" text-anchor="middle">Age (Ga)</text>
<text transform="translate(533,1697.2) rotate(-90)" font-size="69.2" fill="#0a0a0a" text-anchor="middle">Pressure (GPa)</text>
</g>
</svg></body></html>
